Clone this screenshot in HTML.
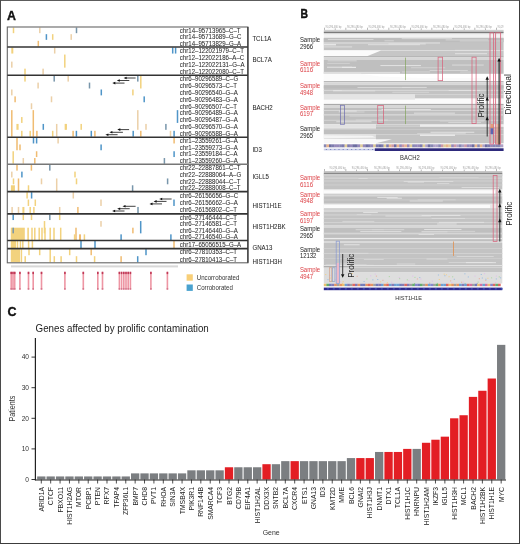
<!DOCTYPE html>
<html><head><meta charset="utf-8"><style>
html,body{margin:0;padding:0;background:#fff;}
svg{display:block;will-change:transform;}
text{font-family:"Liberation Sans", sans-serif;}
</style></head><body>
<svg width="520" height="544" viewBox="0 0 520 544">
<rect x="0" y="0" width="520" height="544" fill="#fff"/>
<text x="7.10" y="19.80" font-size="12.4" fill="#111" text-anchor="start" font-weight="bold" stroke="#111" stroke-width="0.35">A</text>
<rect x="12.75" y="27.50" width="1.50" height="5.67" fill="#f2d27e" />
<rect x="39.05" y="27.50" width="1.50" height="5.67" fill="#ecd0a8" />
<rect x="75.75" y="27.50" width="1.50" height="5.67" fill="#7896ab" />
<rect x="45.65" y="34.17" width="1.50" height="5.67" fill="#4f95c8" />
<rect x="51.95" y="34.17" width="1.50" height="5.67" fill="#f2d27e" />
<rect x="70.45" y="34.17" width="1.50" height="5.67" fill="#ecd0a8" />
<rect x="37.55" y="40.83" width="1.50" height="5.67" fill="#f0bc72" />
<rect x="11.30" y="47.50" width="2.00" height="6.05" fill="#f2d27e" />
<rect x="53.95" y="47.50" width="1.50" height="6.05" fill="#ecd0a8" />
<rect x="171.95" y="47.50" width="1.50" height="6.05" fill="#4f95c8" />
<rect x="174.85" y="47.50" width="1.50" height="6.05" fill="#4f95c8" />
<rect x="64.05" y="54.55" width="1.50" height="13.10" fill="#f2d27e" />
<rect x="11.05" y="61.60" width="1.50" height="6.05" fill="#ecd0a8" />
<rect x="24.25" y="68.65" width="1.50" height="6.05" fill="#f2d27e" />
<rect x="42.35" y="68.65" width="1.50" height="6.05" fill="#ecd0a8" />
<rect x="24.25" y="75.70" width="1.50" height="5.89" fill="#f2d27e" />
<rect x="53.45" y="75.70" width="1.50" height="5.89" fill="#7896ab" />
<rect x="67.45" y="75.70" width="1.50" height="5.89" fill="#ecd0a8" />
<rect x="137.05" y="75.70" width="1.50" height="5.89" fill="#7896ab" />
<rect x="140.05" y="75.70" width="1.50" height="12.78" fill="#f2d27e" />
<rect x="37.35" y="82.59" width="1.50" height="5.89" fill="#ecd0a8" />
<rect x="88.75" y="82.59" width="1.50" height="5.89" fill="#7896ab" />
<rect x="11.05" y="89.48" width="1.50" height="5.89" fill="#ecd0a8" />
<rect x="100.55" y="89.48" width="1.50" height="5.89" fill="#4f95c8" />
<rect x="132.15" y="89.48" width="1.50" height="5.89" fill="#f2d27e" />
<rect x="14.35" y="96.37" width="1.50" height="5.89" fill="#f0bc72" />
<rect x="50.75" y="96.37" width="1.50" height="5.89" fill="#ecd0a8" />
<rect x="143.45" y="96.37" width="1.50" height="5.89" fill="#4f95c8" />
<rect x="30.75" y="103.26" width="1.50" height="5.89" fill="#ecd0a8" />
<rect x="11.05" y="110.14" width="1.50" height="26.56" fill="#f0bc72" />
<rect x="32.55" y="110.14" width="1.50" height="26.56" fill="#f0bc72" />
<rect x="137.05" y="110.14" width="1.50" height="19.67" fill="#ecd0a8" />
<rect x="176.75" y="110.14" width="1.50" height="12.78" fill="#4f95c8" />
<rect x="21.05" y="117.03" width="1.50" height="5.89" fill="#f2d27e" />
<rect x="16.40" y="123.92" width="2.20" height="5.89" fill="#f2d27e" />
<rect x="42.55" y="123.92" width="1.50" height="5.89" fill="#4f95c8" />
<rect x="65.45" y="123.92" width="1.50" height="5.89" fill="#f2d27e" />
<rect x="80.45" y="123.92" width="1.50" height="5.89" fill="#f2d27e" />
<rect x="64.65" y="123.92" width="1.50" height="5.89" fill="#f2d27e" />
<rect x="145.25" y="123.92" width="1.50" height="5.89" fill="#ecd0a8" />
<rect x="165.15" y="123.92" width="1.50" height="5.89" fill="#7896ab" />
<rect x="55.95" y="123.92" width="1.50" height="12.78" fill="#ecd0a8" />
<rect x="21.05" y="130.81" width="1.50" height="5.89" fill="#f2d27e" />
<rect x="29.45" y="130.81" width="1.50" height="5.89" fill="#f2d27e" />
<rect x="36.15" y="130.81" width="1.50" height="5.89" fill="#f0bc72" />
<rect x="51.95" y="130.81" width="1.50" height="5.89" fill="#f2d27e" />
<rect x="72.35" y="130.81" width="1.50" height="5.89" fill="#f0bc72" />
<rect x="75.65" y="130.81" width="1.50" height="5.89" fill="#4f95c8" />
<rect x="90.55" y="130.81" width="1.50" height="5.89" fill="#4f95c8" />
<rect x="94.15" y="130.81" width="1.50" height="5.89" fill="#f0bc72" />
<rect x="132.45" y="130.81" width="1.50" height="5.89" fill="#4f95c8" />
<rect x="140.05" y="130.81" width="1.50" height="5.89" fill="#f0bc72" />
<rect x="169.75" y="130.81" width="1.50" height="5.89" fill="#ecd0a8" />
<rect x="173.35" y="130.81" width="1.50" height="5.89" fill="#4f95c8" />
<rect x="16.25" y="137.70" width="1.50" height="12.55" fill="#f0bc72" />
<rect x="32.75" y="137.70" width="1.50" height="5.78" fill="#4f95c8" />
<rect x="35.85" y="137.70" width="1.50" height="5.78" fill="#4f95c8" />
<rect x="57.35" y="137.70" width="1.50" height="5.78" fill="#ecd0a8" />
<rect x="173.35" y="137.70" width="1.50" height="5.78" fill="#f0bc72" />
<rect x="19.25" y="144.47" width="1.50" height="5.78" fill="#f0bc72" />
<rect x="100.35" y="144.47" width="1.50" height="5.78" fill="#4f95c8" />
<rect x="12.45" y="151.25" width="1.50" height="12.55" fill="#f2d27e" />
<rect x="35.85" y="151.25" width="1.50" height="5.78" fill="#f0bc72" />
<rect x="173.35" y="151.25" width="1.50" height="5.78" fill="#4f95c8" />
<rect x="22.55" y="158.03" width="1.50" height="5.78" fill="#ecd0a8" />
<rect x="34.05" y="158.03" width="1.50" height="5.78" fill="#f0bc72" />
<rect x="163.65" y="158.03" width="1.50" height="5.78" fill="#7896ab" />
<rect x="16.25" y="164.80" width="1.50" height="5.82" fill="#f0bc72" />
<rect x="30.65" y="164.80" width="1.50" height="5.82" fill="#f0bc72" />
<rect x="49.05" y="164.80" width="1.50" height="5.82" fill="#7896ab" />
<rect x="11.05" y="171.62" width="1.50" height="5.82" fill="#ecd0a8" />
<rect x="21.15" y="171.62" width="1.50" height="5.82" fill="#4f95c8" />
<rect x="74.25" y="171.62" width="1.50" height="5.82" fill="#f2d27e" />
<rect x="12.75" y="178.45" width="1.50" height="5.83" fill="#f2d27e" />
<rect x="40.75" y="178.45" width="1.50" height="5.83" fill="#ecd0a8" />
<rect x="75.75" y="178.45" width="1.50" height="5.83" fill="#f2d27e" />
<rect x="166.85" y="178.45" width="1.50" height="5.83" fill="#7896ab" />
<rect x="17.75" y="178.45" width="1.50" height="12.65" fill="#f0bc72" />
<rect x="55.95" y="178.45" width="1.50" height="12.65" fill="#ecd0a8" />
<rect x="10.90" y="185.28" width="4.00" height="5.82" fill="#f2d27e" />
<rect x="27.75" y="185.28" width="1.50" height="5.82" fill="#f2d27e" />
<rect x="131.85" y="185.28" width="1.50" height="5.82" fill="#7896ab" />
<rect x="26.35" y="192.10" width="1.50" height="6.43" fill="#f2d27e" />
<rect x="30.85" y="192.10" width="1.50" height="6.43" fill="#4f95c8" />
<rect x="72.55" y="192.10" width="1.50" height="6.43" fill="#ecd0a8" />
<rect x="27.65" y="199.53" width="1.50" height="6.43" fill="#f2d27e" />
<rect x="34.55" y="199.53" width="1.50" height="6.43" fill="#f2d27e" />
<rect x="100.25" y="199.53" width="1.50" height="6.43" fill="#ecd0a8" />
<rect x="173.25" y="199.53" width="1.50" height="6.43" fill="#4f95c8" />
<rect x="137.25" y="206.97" width="1.50" height="6.43" fill="#7896ab" />
<rect x="11.35" y="206.97" width="1.50" height="6.43" fill="#ecd0a8" />
<rect x="17.75" y="206.97" width="1.50" height="6.43" fill="#ecd0a8" />
<rect x="22.40" y="206.97" width="2.00" height="6.43" fill="#f2d27e" />
<rect x="29.45" y="206.97" width="1.50" height="6.43" fill="#f2d27e" />
<rect x="33.15" y="206.97" width="1.50" height="6.43" fill="#f2d27e" />
<rect x="58.95" y="206.97" width="1.50" height="6.43" fill="#ecd0a8" />
<rect x="77.15" y="206.97" width="1.50" height="6.43" fill="#f0bc72" />
<rect x="12.45" y="214.40" width="1.50" height="5.65" fill="#4f95c8" />
<rect x="22.55" y="214.40" width="1.50" height="5.65" fill="#f2d27e" />
<rect x="30.75" y="214.40" width="1.50" height="5.65" fill="#f2d27e" />
<rect x="49.05" y="214.40" width="1.50" height="5.65" fill="#7896ab" />
<rect x="58.95" y="214.40" width="1.50" height="5.65" fill="#f2d27e" />
<rect x="43.75" y="221.05" width="1.50" height="12.30" fill="#f2d27e" />
<rect x="100.25" y="221.05" width="1.50" height="5.65" fill="#ecd0a8" />
<rect x="139.95" y="221.05" width="1.50" height="12.30" fill="#4f95c8" />
<rect x="10.80" y="227.70" width="14.00" height="12.30" fill="#f2d27e" />
<rect x="75.25" y="227.70" width="1.50" height="12.30" fill="#f0bc72" />
<rect x="27.30" y="227.70" width="1.60" height="12.30" fill="#f2d27e" />
<rect x="31.25" y="227.70" width="1.50" height="12.30" fill="#f2d27e" />
<rect x="34.05" y="227.70" width="1.50" height="12.30" fill="#f2d27e" />
<rect x="38.45" y="227.70" width="1.50" height="12.30" fill="#f2d27e" />
<rect x="41.25" y="227.70" width="1.50" height="12.30" fill="#f2d27e" />
<rect x="44.25" y="227.70" width="1.50" height="12.30" fill="#f2d27e" />
<rect x="49.45" y="227.70" width="1.50" height="12.30" fill="#f2d27e" />
<rect x="53.25" y="227.70" width="1.50" height="12.30" fill="#f2d27e" />
<rect x="59.95" y="227.70" width="1.50" height="12.30" fill="#f2d27e" />
<rect x="12.45" y="227.70" width="1.50" height="5.65" fill="#7896ab" />
<rect x="132.15" y="227.70" width="1.50" height="5.65" fill="#f0bc72" />
<rect x="73.85" y="234.35" width="1.50" height="5.65" fill="#f2d27e" />
<rect x="79.00" y="234.35" width="2.00" height="5.65" fill="#f0bc72" />
<rect x="83.65" y="234.35" width="1.50" height="5.65" fill="#f2d27e" />
<rect x="120.35" y="234.35" width="1.50" height="5.65" fill="#4f95c8" />
<rect x="170.15" y="234.35" width="1.50" height="5.65" fill="#4f95c8" />
<rect x="10.80" y="241.00" width="5.30" height="7.10" fill="#f2d27e" />
<rect x="16.75" y="241.00" width="1.50" height="7.10" fill="#f2d27e" />
<rect x="19.65" y="241.00" width="1.50" height="7.10" fill="#f2d27e" />
<rect x="22.05" y="241.00" width="1.50" height="7.10" fill="#f2d27e" />
<rect x="27.85" y="241.00" width="1.50" height="7.10" fill="#f2d27e" />
<rect x="31.65" y="241.00" width="1.50" height="7.10" fill="#f2d27e" />
<rect x="80.25" y="241.00" width="1.50" height="7.10" fill="#4f95c8" />
<rect x="94.25" y="241.00" width="1.50" height="7.10" fill="#4f95c8" />
<rect x="173.25" y="241.00" width="1.50" height="7.10" fill="#f0bc72" />
<rect x="10.80" y="249.10" width="9.20" height="13.20" fill="#f2d27e" />
<rect x="20.65" y="249.10" width="1.50" height="13.20" fill="#f2d27e" />
<rect x="49.45" y="249.10" width="1.50" height="13.20" fill="#f2d27e" />
<rect x="24.45" y="256.20" width="1.50" height="6.10" fill="#f2d27e" />
<rect x="28.25" y="249.10" width="1.50" height="6.10" fill="#f2d27e" />
<rect x="38.95" y="249.10" width="1.50" height="6.10" fill="#f2d27e" />
<rect x="68.95" y="249.10" width="1.50" height="6.10" fill="#f2d27e" />
<rect x="90.45" y="249.10" width="1.50" height="6.10" fill="#f0bc72" />
<rect x="145.25" y="249.10" width="1.50" height="6.10" fill="#4f95c8" />
<rect x="53.55" y="256.20" width="1.50" height="6.10" fill="#f2d27e" />
<rect x="60.35" y="256.20" width="1.50" height="6.10" fill="#f2d27e" />
<rect x="75.75" y="256.20" width="1.50" height="6.10" fill="#f2d27e" />
<rect x="93.85" y="256.20" width="1.50" height="6.10" fill="#f2d27e" />
<rect x="120.35" y="256.20" width="1.50" height="6.10" fill="#f0bc72" />
<rect x="136.95" y="256.20" width="1.50" height="6.10" fill="#4f95c8" />
<line x1="125.60" y1="78.00" x2="135.60" y2="78.00" stroke="#111" stroke-width="0.8" />
<polygon points="123.60,78.00 126.60,76.70 126.60,79.30" fill="#111" />
<line x1="118.80" y1="80.50" x2="129.30" y2="80.50" stroke="#111" stroke-width="0.8" />
<polygon points="116.80,80.50 119.80,79.20 119.80,81.80" fill="#111" />
<line x1="114.30" y1="83.10" x2="124.50" y2="83.10" stroke="#111" stroke-width="0.8" />
<polygon points="112.30,83.10 115.30,81.80 115.30,84.40" fill="#111" />
<line x1="161.20" y1="199.00" x2="171.60" y2="199.00" stroke="#111" stroke-width="0.8" />
<polygon points="159.20,199.00 162.20,197.70 162.20,200.30" fill="#111" />
<line x1="155.60" y1="201.40" x2="166.50" y2="201.40" stroke="#111" stroke-width="0.8" />
<polygon points="153.60,201.40 156.60,200.10 156.60,202.70" fill="#111" />
<line x1="151.50" y1="203.90" x2="162.00" y2="203.90" stroke="#111" stroke-width="0.8" />
<polygon points="149.50,203.90 152.50,202.60 152.50,205.20" fill="#111" />
<line x1="124.50" y1="206.30" x2="135.60" y2="206.30" stroke="#111" stroke-width="0.8" />
<polygon points="122.50,206.30 125.50,205.00 125.50,207.60" fill="#111" />
<line x1="119.20" y1="208.70" x2="129.70" y2="208.70" stroke="#111" stroke-width="0.8" />
<polygon points="117.20,208.70 120.20,207.40 120.20,210.00" fill="#111" />
<line x1="114.10" y1="211.00" x2="124.50" y2="211.00" stroke="#111" stroke-width="0.8" />
<polygon points="112.10,211.00 115.10,209.70 115.10,212.30" fill="#111" />
<line x1="119.30" y1="129.60" x2="129.10" y2="129.60" stroke="#111" stroke-width="0.8" />
<polygon points="117.30,129.60 120.30,128.30 120.30,130.90" fill="#111" />
<line x1="111.40" y1="132.30" x2="122.90" y2="132.30" stroke="#111" stroke-width="0.8" />
<polygon points="109.40,132.30 112.40,131.00 112.40,133.60" fill="#111" />
<line x1="107.40" y1="134.70" x2="117.60" y2="134.70" stroke="#111" stroke-width="0.8" />
<polygon points="105.40,134.70 108.40,133.40 108.40,136.00" fill="#111" />
<rect x="7.3" y="27.00" width="240.6" height="235.80" fill="none" stroke="#666" stroke-width="1.1"/>
<line x1="247.90" y1="27.00" x2="247.90" y2="262.80" stroke="#333" stroke-width="1.2" />
<line x1="7.30" y1="47.00" x2="247.90" y2="47.00" stroke="#333" stroke-width="1.6" />
<line x1="7.30" y1="75.20" x2="247.90" y2="75.20" stroke="#333" stroke-width="1.6" />
<line x1="7.30" y1="137.20" x2="247.90" y2="137.20" stroke="#333" stroke-width="1.6" />
<line x1="7.30" y1="164.30" x2="247.90" y2="164.30" stroke="#777" stroke-width="1.6" />
<line x1="7.30" y1="191.60" x2="247.90" y2="191.60" stroke="#333" stroke-width="1.6" />
<line x1="7.30" y1="213.90" x2="247.90" y2="213.90" stroke="#333" stroke-width="1.6" />
<line x1="7.30" y1="240.50" x2="247.90" y2="240.50" stroke="#333" stroke-width="1.6" />
<line x1="7.30" y1="248.60" x2="247.90" y2="248.60" stroke="#333" stroke-width="1.6" />
<text x="179.80" y="32.63" font-size="6.6" fill="#2a2a2a" text-anchor="start" font-weight="normal" textLength="60.70" lengthAdjust="spacingAndGlyphs" stroke="#2a2a2a" stroke-width="0.05">chr14–95713965–C–T</text>
<text x="179.80" y="39.30" font-size="6.6" fill="#2a2a2a" text-anchor="start" font-weight="normal" textLength="61.72" lengthAdjust="spacingAndGlyphs" stroke="#2a2a2a" stroke-width="0.05">chr14–95713689–G–C</text>
<text x="179.80" y="45.97" font-size="6.6" fill="#2a2a2a" text-anchor="start" font-weight="normal" textLength="61.39" lengthAdjust="spacingAndGlyphs" stroke="#2a2a2a" stroke-width="0.05">chr14–95713829–G–A</text>
<text x="179.80" y="52.82" font-size="6.6" fill="#2a2a2a" text-anchor="start" font-weight="normal" textLength="64.09" lengthAdjust="spacingAndGlyphs" stroke="#2a2a2a" stroke-width="0.05">chr12–122021979–C–T</text>
<text x="179.80" y="59.88" font-size="6.6" fill="#2a2a2a" text-anchor="start" font-weight="normal" textLength="64.44" lengthAdjust="spacingAndGlyphs" stroke="#2a2a2a" stroke-width="0.05">chr12–122022186–A–C</text>
<text x="179.80" y="66.92" font-size="6.6" fill="#2a2a2a" text-anchor="start" font-weight="normal" textLength="64.78" lengthAdjust="spacingAndGlyphs" stroke="#2a2a2a" stroke-width="0.05">chr12–122022131–G–A</text>
<text x="179.80" y="73.98" font-size="6.6" fill="#2a2a2a" text-anchor="start" font-weight="normal" textLength="64.09" lengthAdjust="spacingAndGlyphs" stroke="#2a2a2a" stroke-width="0.05">chr12–122022080–C–T</text>
<text x="179.80" y="80.94" font-size="6.6" fill="#2a2a2a" text-anchor="start" font-weight="normal" textLength="58.33" lengthAdjust="spacingAndGlyphs" stroke="#2a2a2a" stroke-width="0.05">chr6–90296589–C–G</text>
<text x="179.80" y="87.83" font-size="6.6" fill="#2a2a2a" text-anchor="start" font-weight="normal" textLength="57.31" lengthAdjust="spacingAndGlyphs" stroke="#2a2a2a" stroke-width="0.05">chr6–90296573–C–T</text>
<text x="179.80" y="94.72" font-size="6.6" fill="#2a2a2a" text-anchor="start" font-weight="normal" textLength="57.99" lengthAdjust="spacingAndGlyphs" stroke="#2a2a2a" stroke-width="0.05">chr6–90296540–G–A</text>
<text x="179.80" y="101.61" font-size="6.6" fill="#2a2a2a" text-anchor="start" font-weight="normal" textLength="57.99" lengthAdjust="spacingAndGlyphs" stroke="#2a2a2a" stroke-width="0.05">chr6–90296483–G–A</text>
<text x="179.80" y="108.50" font-size="6.6" fill="#2a2a2a" text-anchor="start" font-weight="normal" textLength="57.31" lengthAdjust="spacingAndGlyphs" stroke="#2a2a2a" stroke-width="0.05">chr6–90296507–C–T</text>
<text x="179.80" y="115.39" font-size="6.6" fill="#2a2a2a" text-anchor="start" font-weight="normal" textLength="57.99" lengthAdjust="spacingAndGlyphs" stroke="#2a2a2a" stroke-width="0.05">chr6–90296489–G–A</text>
<text x="179.80" y="122.28" font-size="6.6" fill="#2a2a2a" text-anchor="start" font-weight="normal" textLength="57.99" lengthAdjust="spacingAndGlyphs" stroke="#2a2a2a" stroke-width="0.05">chr6–90296487–G–A</text>
<text x="179.80" y="129.17" font-size="6.6" fill="#2a2a2a" text-anchor="start" font-weight="normal" textLength="57.99" lengthAdjust="spacingAndGlyphs" stroke="#2a2a2a" stroke-width="0.05">chr6–90296570–G–A</text>
<text x="179.80" y="136.06" font-size="6.6" fill="#2a2a2a" text-anchor="start" font-weight="normal" textLength="57.99" lengthAdjust="spacingAndGlyphs" stroke="#2a2a2a" stroke-width="0.05">chr6–90296588–G–A</text>
<text x="179.80" y="142.89" font-size="6.6" fill="#2a2a2a" text-anchor="start" font-weight="normal" textLength="57.99" lengthAdjust="spacingAndGlyphs" stroke="#2a2a2a" stroke-width="0.05">chr1–23559261–G–A</text>
<text x="179.80" y="149.66" font-size="6.6" fill="#2a2a2a" text-anchor="start" font-weight="normal" textLength="57.99" lengthAdjust="spacingAndGlyphs" stroke="#2a2a2a" stroke-width="0.05">chr1–23559273–G–A</text>
<text x="179.80" y="156.44" font-size="6.6" fill="#2a2a2a" text-anchor="start" font-weight="normal" textLength="57.65" lengthAdjust="spacingAndGlyphs" stroke="#2a2a2a" stroke-width="0.05">chr1–23559184–C–A</text>
<text x="179.80" y="163.21" font-size="6.6" fill="#2a2a2a" text-anchor="start" font-weight="normal" textLength="57.99" lengthAdjust="spacingAndGlyphs" stroke="#2a2a2a" stroke-width="0.05">chr1–23559260–G–A</text>
<text x="179.80" y="170.01" font-size="6.6" fill="#2a2a2a" text-anchor="start" font-weight="normal" textLength="60.70" lengthAdjust="spacingAndGlyphs" stroke="#2a2a2a" stroke-width="0.05">chr22–22887861–C–T</text>
<text x="179.80" y="176.84" font-size="6.6" fill="#2a2a2a" text-anchor="start" font-weight="normal" textLength="61.39" lengthAdjust="spacingAndGlyphs" stroke="#2a2a2a" stroke-width="0.05">chr22–22888064–A–G</text>
<text x="179.80" y="183.66" font-size="6.6" fill="#2a2a2a" text-anchor="start" font-weight="normal" textLength="60.70" lengthAdjust="spacingAndGlyphs" stroke="#2a2a2a" stroke-width="0.05">chr22–22888044–C–T</text>
<text x="179.80" y="190.49" font-size="6.6" fill="#2a2a2a" text-anchor="start" font-weight="normal" textLength="60.70" lengthAdjust="spacingAndGlyphs" stroke="#2a2a2a" stroke-width="0.05">chr22–22888008–C–T</text>
<text x="179.80" y="197.62" font-size="6.6" fill="#2a2a2a" text-anchor="start" font-weight="normal" textLength="58.33" lengthAdjust="spacingAndGlyphs" stroke="#2a2a2a" stroke-width="0.05">chr6–26156656–G–C</text>
<text x="179.80" y="205.05" font-size="6.6" fill="#2a2a2a" text-anchor="start" font-weight="normal" textLength="57.99" lengthAdjust="spacingAndGlyphs" stroke="#2a2a2a" stroke-width="0.05">chr6–26156662–G–A</text>
<text x="179.80" y="212.48" font-size="6.6" fill="#2a2a2a" text-anchor="start" font-weight="normal" textLength="57.31" lengthAdjust="spacingAndGlyphs" stroke="#2a2a2a" stroke-width="0.05">chr6–26156802–C–T</text>
<text x="179.80" y="219.53" font-size="6.6" fill="#2a2a2a" text-anchor="start" font-weight="normal" textLength="57.31" lengthAdjust="spacingAndGlyphs" stroke="#2a2a2a" stroke-width="0.05">chr6–27146444–C–T</text>
<text x="179.80" y="226.18" font-size="6.6" fill="#2a2a2a" text-anchor="start" font-weight="normal" textLength="57.31" lengthAdjust="spacingAndGlyphs" stroke="#2a2a2a" stroke-width="0.05">chr6–27146581–C–T</text>
<text x="179.80" y="232.82" font-size="6.6" fill="#2a2a2a" text-anchor="start" font-weight="normal" textLength="57.99" lengthAdjust="spacingAndGlyphs" stroke="#2a2a2a" stroke-width="0.05">chr6–27146440–G–A</text>
<text x="179.80" y="239.48" font-size="6.6" fill="#2a2a2a" text-anchor="start" font-weight="normal" textLength="57.99" lengthAdjust="spacingAndGlyphs" stroke="#2a2a2a" stroke-width="0.05">chr6–27146540–G–A</text>
<text x="179.80" y="246.85" font-size="6.6" fill="#2a2a2a" text-anchor="start" font-weight="normal" textLength="61.39" lengthAdjust="spacingAndGlyphs" stroke="#2a2a2a" stroke-width="0.05">chr17–65056515–G–A</text>
<text x="179.80" y="254.45" font-size="6.6" fill="#2a2a2a" text-anchor="start" font-weight="normal" textLength="57.31" lengthAdjust="spacingAndGlyphs" stroke="#2a2a2a" stroke-width="0.05">chr6–27810353–C–T</text>
<text x="179.80" y="261.55" font-size="6.6" fill="#2a2a2a" text-anchor="start" font-weight="normal" textLength="57.31" lengthAdjust="spacingAndGlyphs" stroke="#2a2a2a" stroke-width="0.05">chr6–27810413–C–T</text>
<text x="252.40" y="40.70" font-size="6.6" fill="#2a2a2a" text-anchor="start" font-weight="normal" textLength="18.98" lengthAdjust="spacingAndGlyphs" stroke="#2a2a2a" stroke-width="0.05">TCL1A</text>
<text x="252.40" y="61.80" font-size="6.6" fill="#2a2a2a" text-anchor="start" font-weight="normal" textLength="19.33" lengthAdjust="spacingAndGlyphs" stroke="#2a2a2a" stroke-width="0.05">BCL7A</text>
<text x="252.40" y="110.30" font-size="6.6" fill="#2a2a2a" text-anchor="start" font-weight="normal" textLength="20.34" lengthAdjust="spacingAndGlyphs" stroke="#2a2a2a" stroke-width="0.05">BACH2</text>
<text x="252.40" y="151.90" font-size="6.6" fill="#2a2a2a" text-anchor="start" font-weight="normal" textLength="9.49" lengthAdjust="spacingAndGlyphs" stroke="#2a2a2a" stroke-width="0.05">ID3</text>
<text x="252.40" y="178.70" font-size="6.6" fill="#2a2a2a" text-anchor="start" font-weight="normal" textLength="16.62" lengthAdjust="spacingAndGlyphs" stroke="#2a2a2a" stroke-width="0.05">IGLL5</text>
<text x="252.40" y="208.10" font-size="6.6" fill="#2a2a2a" text-anchor="start" font-weight="normal" textLength="29.15" lengthAdjust="spacingAndGlyphs" stroke="#2a2a2a" stroke-width="0.05">HIST1H1E</text>
<text x="252.40" y="228.90" font-size="6.6" fill="#2a2a2a" text-anchor="start" font-weight="normal" textLength="33.22" lengthAdjust="spacingAndGlyphs" stroke="#2a2a2a" stroke-width="0.05">HIST1H2BK</text>
<text x="252.40" y="250.00" font-size="6.6" fill="#2a2a2a" text-anchor="start" font-weight="normal" textLength="20.00" lengthAdjust="spacingAndGlyphs" stroke="#2a2a2a" stroke-width="0.05">GNA13</text>
<text x="252.40" y="264.30" font-size="6.6" fill="#2a2a2a" text-anchor="start" font-weight="normal" textLength="29.49" lengthAdjust="spacingAndGlyphs" stroke="#2a2a2a" stroke-width="0.05">HIST1H3H</text>
<rect x="11.00" y="265.40" width="167.00" height="2.00" fill="#d8d8d8" />
<rect x="10.40" y="272.00" width="1.60" height="17.60" fill="#ee96a4" />
<rect x="10.40" y="271.70" width="1.60" height="2.40" fill="#c03a58" />
<rect x="10.40" y="288.20" width="1.60" height="1.40" fill="#d07088" />
<rect x="12.20" y="272.00" width="1.60" height="17.60" fill="#ee96a4" />
<rect x="12.20" y="271.70" width="1.60" height="2.40" fill="#c03a58" />
<rect x="12.20" y="288.20" width="1.60" height="1.40" fill="#d07088" />
<rect x="13.90" y="272.00" width="1.60" height="17.60" fill="#ee96a4" />
<rect x="13.90" y="271.70" width="1.60" height="2.40" fill="#c03a58" />
<rect x="13.90" y="288.20" width="1.60" height="1.40" fill="#d07088" />
<rect x="19.10" y="272.00" width="1.60" height="17.60" fill="#ee96a4" />
<rect x="19.10" y="271.70" width="1.60" height="2.40" fill="#c03a58" />
<rect x="19.10" y="288.20" width="1.60" height="1.40" fill="#d07088" />
<rect x="27.70" y="272.00" width="1.60" height="17.60" fill="#ee96a4" />
<rect x="27.70" y="271.70" width="1.60" height="2.40" fill="#c03a58" />
<rect x="27.70" y="288.20" width="1.60" height="1.40" fill="#d07088" />
<rect x="32.40" y="272.00" width="1.60" height="17.60" fill="#ee96a4" />
<rect x="32.40" y="271.70" width="1.60" height="2.40" fill="#c03a58" />
<rect x="32.40" y="288.20" width="1.60" height="1.40" fill="#d07088" />
<rect x="40.70" y="272.00" width="1.60" height="17.60" fill="#ee96a4" />
<rect x="40.70" y="271.70" width="1.60" height="2.40" fill="#c03a58" />
<rect x="40.70" y="288.20" width="1.60" height="1.40" fill="#d07088" />
<rect x="64.10" y="272.00" width="1.60" height="17.60" fill="#ee96a4" />
<rect x="64.10" y="271.70" width="1.60" height="2.40" fill="#c03a58" />
<rect x="64.10" y="288.20" width="1.60" height="1.40" fill="#d07088" />
<rect x="82.50" y="272.00" width="1.60" height="17.60" fill="#ee96a4" />
<rect x="82.50" y="271.70" width="1.60" height="2.40" fill="#c03a58" />
<rect x="82.50" y="288.20" width="1.60" height="1.40" fill="#d07088" />
<rect x="97.00" y="272.00" width="1.60" height="17.60" fill="#ee96a4" />
<rect x="97.00" y="271.70" width="1.60" height="2.40" fill="#c03a58" />
<rect x="97.00" y="288.20" width="1.60" height="1.40" fill="#d07088" />
<rect x="101.70" y="272.00" width="1.60" height="17.60" fill="#ee96a4" />
<rect x="101.70" y="271.70" width="1.60" height="2.40" fill="#c03a58" />
<rect x="101.70" y="288.20" width="1.60" height="1.40" fill="#d07088" />
<rect x="118.60" y="272.00" width="1.60" height="17.60" fill="#ee96a4" />
<rect x="118.60" y="271.70" width="1.60" height="2.40" fill="#c03a58" />
<rect x="118.60" y="288.20" width="1.60" height="1.40" fill="#d07088" />
<rect x="120.80" y="272.00" width="1.60" height="17.60" fill="#ee96a4" />
<rect x="120.80" y="271.70" width="1.60" height="2.40" fill="#c03a58" />
<rect x="120.80" y="288.20" width="1.60" height="1.40" fill="#d07088" />
<rect x="123.00" y="272.00" width="1.60" height="17.60" fill="#ee96a4" />
<rect x="123.00" y="271.70" width="1.60" height="2.40" fill="#c03a58" />
<rect x="123.00" y="288.20" width="1.60" height="1.40" fill="#d07088" />
<rect x="125.20" y="272.00" width="1.60" height="17.60" fill="#ee96a4" />
<rect x="125.20" y="271.70" width="1.60" height="2.40" fill="#c03a58" />
<rect x="125.20" y="288.20" width="1.60" height="1.40" fill="#d07088" />
<rect x="127.40" y="272.00" width="1.60" height="17.60" fill="#ee96a4" />
<rect x="127.40" y="271.70" width="1.60" height="2.40" fill="#c03a58" />
<rect x="127.40" y="288.20" width="1.60" height="1.40" fill="#d07088" />
<rect x="129.60" y="272.00" width="1.60" height="17.60" fill="#ee96a4" />
<rect x="129.60" y="271.70" width="1.60" height="2.40" fill="#c03a58" />
<rect x="129.60" y="288.20" width="1.60" height="1.40" fill="#d07088" />
<rect x="150.10" y="272.00" width="1.60" height="17.60" fill="#ee96a4" />
<rect x="150.10" y="271.70" width="1.60" height="2.40" fill="#c03a58" />
<rect x="150.10" y="288.20" width="1.60" height="1.40" fill="#d07088" />
<rect x="166.60" y="272.00" width="1.60" height="17.60" fill="#ee96a4" />
<rect x="166.60" y="271.70" width="1.60" height="2.40" fill="#c03a58" />
<rect x="166.60" y="288.20" width="1.60" height="1.40" fill="#d07088" />
<rect x="186.60" y="274.30" width="6.20" height="6.40" fill="#f8cf78" />
<rect x="186.60" y="284.50" width="6.20" height="6.40" fill="#4aa2cf" />
<text x="196.80" y="280.00" font-size="6.9" fill="#333" text-anchor="start" font-weight="normal" textLength="42.5" lengthAdjust="spacingAndGlyphs">Uncorroborated</text>
<text x="196.80" y="290.00" font-size="6.9" fill="#333" text-anchor="start" font-weight="normal" textLength="36" lengthAdjust="spacingAndGlyphs">Corroborated</text>
<text x="300.60" y="17.50" font-size="13.6" fill="#111" text-anchor="start" font-weight="bold" stroke="#111" stroke-width="0.5" textLength="7.5" lengthAdjust="spacingAndGlyphs">B</text>
<clipPath id="c1"><rect x="323.80" y="23.00" width="179.80" height="8"/></clipPath>
<g clip-path="url(#c1)">
<text x="325.50" y="28.00" font-size="3.1" fill="#a0a0a0" text-anchor="start" font-weight="normal" textLength="16.0" lengthAdjust="spacingAndGlyphs">90,296,480 bp</text>
<text x="347.00" y="28.00" font-size="3.1" fill="#a0a0a0" text-anchor="start" font-weight="normal" textLength="16.0" lengthAdjust="spacingAndGlyphs">90,296,480 bp</text>
<text x="368.50" y="28.00" font-size="3.1" fill="#a0a0a0" text-anchor="start" font-weight="normal" textLength="16.0" lengthAdjust="spacingAndGlyphs">90,296,480 bp</text>
<text x="390.00" y="28.00" font-size="3.1" fill="#a0a0a0" text-anchor="start" font-weight="normal" textLength="16.0" lengthAdjust="spacingAndGlyphs">90,296,480 bp</text>
<text x="411.50" y="28.00" font-size="3.1" fill="#a0a0a0" text-anchor="start" font-weight="normal" textLength="16.0" lengthAdjust="spacingAndGlyphs">90,296,480 bp</text>
<text x="433.00" y="28.00" font-size="3.1" fill="#a0a0a0" text-anchor="start" font-weight="normal" textLength="16.0" lengthAdjust="spacingAndGlyphs">90,296,480 bp</text>
<text x="454.50" y="28.00" font-size="3.1" fill="#a0a0a0" text-anchor="start" font-weight="normal" textLength="16.0" lengthAdjust="spacingAndGlyphs">90,296,480 bp</text>
<text x="476.00" y="28.00" font-size="3.1" fill="#a0a0a0" text-anchor="start" font-weight="normal" textLength="16.0" lengthAdjust="spacingAndGlyphs">90,296,480 bp</text>
<text x="497.50" y="28.00" font-size="3.1" fill="#a0a0a0" text-anchor="start" font-weight="normal" textLength="16.0" lengthAdjust="spacingAndGlyphs">90,296,480 bp</text>
</g>
<rect x="323.80" y="29.90" width="179.80" height="0.70" fill="#b0b0b0" />
<rect x="324.10" y="27.70" width="0.60" height="2.20" fill="#888" />
<rect x="334.85" y="28.30" width="0.60" height="1.60" fill="#888" />
<rect x="345.60" y="27.70" width="0.60" height="2.20" fill="#888" />
<rect x="356.35" y="28.30" width="0.60" height="1.60" fill="#888" />
<rect x="367.10" y="27.70" width="0.60" height="2.20" fill="#888" />
<rect x="377.85" y="28.30" width="0.60" height="1.60" fill="#888" />
<rect x="388.60" y="27.70" width="0.60" height="2.20" fill="#888" />
<rect x="399.35" y="28.30" width="0.60" height="1.60" fill="#888" />
<rect x="410.10" y="27.70" width="0.60" height="2.20" fill="#888" />
<rect x="420.85" y="28.30" width="0.60" height="1.60" fill="#888" />
<rect x="431.60" y="27.70" width="0.60" height="2.20" fill="#888" />
<rect x="442.35" y="28.30" width="0.60" height="1.60" fill="#888" />
<rect x="453.10" y="27.70" width="0.60" height="2.20" fill="#888" />
<rect x="463.85" y="28.30" width="0.60" height="1.60" fill="#888" />
<rect x="474.60" y="27.70" width="0.60" height="2.20" fill="#888" />
<rect x="485.35" y="28.30" width="0.60" height="1.60" fill="#888" />
<rect x="496.10" y="27.70" width="0.60" height="2.20" fill="#888" />
<rect x="323.80" y="31.60" width="179.80" height="1.20" fill="#5a5a5a" />
<rect x="323.80" y="33.00" width="179.80" height="1.50" fill="#d7d7d7" />
<rect x="323.80" y="34.50" width="179.80" height="3.20" fill="#f2f2f2" />
<rect x="323.80" y="37.70" width="179.80" height="12.70" fill="#c3c3c3" />
<rect x="323.80" y="38.20" width="179.80" height="3.90" fill="#bdbdbd" />
<rect x="323.80" y="42.10" width="116.20" height="1.80" fill="#d4d4d4" />
<rect x="323.80" y="43.90" width="12.20" height="1.50" fill="#e6e6e6" />
<rect x="368.00" y="43.90" width="52.00" height="1.30" fill="#dadada" />
<rect x="323.80" y="50.40" width="179.80" height="5.80" fill="#fbfbfb" />
<polygon points="367.00,56.20 381.00,50.40 503.60,50.40 503.60,56.20" fill="#c6c6c6" />
<rect x="455.00" y="49.90" width="32.00" height="1.00" fill="#e2e2e2" />
<rect x="455.00" y="53.20" width="32.00" height="1.00" fill="#e2e2e2" />
<rect x="323.80" y="56.20" width="179.80" height="1.20" fill="#a9a9a9" />
<rect x="323.80" y="57.40" width="179.80" height="2.60" fill="#d7d7d7" />
<rect x="323.80" y="60.00" width="179.80" height="13.80" fill="#bfbfbf" />
<rect x="327.00" y="66.60" width="25.00" height="1.40" fill="#dadada" />
<rect x="323.80" y="71.90" width="76.20" height="1.90" fill="#dedede" />
<rect x="323.80" y="73.80" width="36.20" height="7.20" fill="#fbfbfb" />
<polygon points="360.00,73.80 380.00,76.50 430.00,78.20 430.00,81.00 360.00,81.00" fill="#fbfbfb" />
<rect x="323.80" y="78.20" width="165.20" height="3.20" fill="#fbfbfb" />
<rect x="342.00" y="66.80" width="14.00" height="1.20" fill="#e8e8e8" />
<rect x="323.80" y="81.20" width="179.80" height="1.00" fill="#a9a9a9" />
<rect x="323.80" y="82.20" width="179.80" height="2.60" fill="#d7d7d7" />
<rect x="323.80" y="84.80" width="179.80" height="9.70" fill="#c3c3c3" />
<rect x="323.80" y="85.50" width="179.80" height="3.00" fill="#bababa" />
<rect x="323.80" y="90.00" width="179.80" height="1.00" fill="#d6d6d6" />
<rect x="323.80" y="94.50" width="91.20" height="5.30" fill="#e4e4e4" />
<rect x="415.00" y="94.50" width="88.60" height="4.10" fill="#c6c6c6" />
<rect x="323.80" y="99.80" width="179.80" height="4.10" fill="#fbfbfb" />
<rect x="415.00" y="98.60" width="88.60" height="1.20" fill="#fbfbfb" />
<rect x="323.80" y="103.90" width="179.80" height="1.10" fill="#a9a9a9" />
<rect x="323.80" y="105.00" width="179.80" height="3.00" fill="#d7d7d7" />
<rect x="323.80" y="108.00" width="179.80" height="16.20" fill="#bfbfbf" />
<rect x="323.80" y="110.00" width="179.80" height="0.90" fill="#d8d8d8" />
<rect x="323.80" y="114.00" width="179.80" height="1.60" fill="#d4d4d4" />
<rect x="323.80" y="119.80" width="179.80" height="0.90" fill="#d6d6d6" />
<rect x="323.80" y="124.20" width="52.20" height="3.40" fill="#e2e2e2" />
<rect x="376.00" y="124.20" width="127.60" height="0.40" fill="#c4c4c4" />
<rect x="420.00" y="124.60" width="83.60" height="2.20" fill="#ececec" />
<rect x="376.00" y="124.60" width="44.00" height="2.20" fill="#c8c8c8" />
<rect x="323.80" y="127.60" width="52.20" height="1.60" fill="#d7d7d7" />
<rect x="376.00" y="126.80" width="127.60" height="2.40" fill="#bfbfbf" />
<rect x="323.80" y="129.20" width="179.80" height="5.20" fill="#bfbfbf" />
<rect x="376.00" y="134.40" width="127.60" height="8.90" fill="#c3c3c3" />
<rect x="323.80" y="134.40" width="52.20" height="4.80" fill="#dedede" />
<polygon points="323.80,135.20 372.00,135.80 376.00,137.60 323.80,138.20" fill="#f4f4f4" />
<rect x="323.80" y="139.20" width="52.20" height="4.10" fill="#f8f8f8" />
<polygon points="376.00,139.20 392.00,139.20 376.00,143.30" fill="#f8f8f8" />
<rect x="420.00" y="134.40" width="35.00" height="1.60" fill="#e8e8e8" />
<rect x="445.69" y="39.50" width="42.37" height="0.80" fill="#dadada" />
<rect x="388.45" y="43.55" width="37.32" height="0.80" fill="#e6e6e6" />
<rect x="327.88" y="39.05" width="45.61" height="0.80" fill="#dedede" />
<rect x="324.10" y="46.54" width="28.04" height="0.80" fill="#e5e5e5" />
<rect x="459.77" y="40.56" width="43.83" height="0.80" fill="#d4d4d4" />
<rect x="401.68" y="38.28" width="50.26" height="0.80" fill="#dddddd" />
<rect x="384.52" y="40.43" width="9.31" height="0.80" fill="#d9d9d9" />
<rect x="460.14" y="71.66" width="10.54" height="0.80" fill="#d6d6d6" />
<rect x="429.66" y="70.19" width="38.14" height="0.80" fill="#dbdbdb" />
<rect x="411.08" y="67.39" width="34.15" height="0.80" fill="#d7d7d7" />
<rect x="380.41" y="65.25" width="40.54" height="0.80" fill="#ebebeb" />
<rect x="402.07" y="71.58" width="28.02" height="0.80" fill="#dadada" />
<rect x="327.75" y="60.44" width="28.92" height="0.80" fill="#dbdbdb" />
<rect x="452.07" y="64.64" width="31.66" height="0.80" fill="#e1e1e1" />
<rect x="327.23" y="62.88" width="22.63" height="0.80" fill="#d7d7d7" />
<rect x="402.08" y="86.95" width="24.65" height="0.80" fill="#e2e2e2" />
<rect x="333.23" y="90.13" width="8.59" height="0.80" fill="#e8e8e8" />
<rect x="357.51" y="87.13" width="52.80" height="0.80" fill="#dfdfdf" />
<rect x="392.32" y="91.86" width="36.76" height="0.80" fill="#d7d7d7" />
<rect x="448.66" y="90.21" width="31.54" height="0.80" fill="#e5e5e5" />
<rect x="333.01" y="90.51" width="42.12" height="0.80" fill="#e2e2e2" />
<rect x="338.64" y="111.59" width="25.82" height="0.80" fill="#d7d7d7" />
<rect x="381.56" y="109.01" width="49.31" height="0.80" fill="#e7e7e7" />
<rect x="355.72" y="119.63" width="32.15" height="0.80" fill="#dadada" />
<rect x="339.07" y="110.62" width="17.65" height="0.80" fill="#eaeaea" />
<rect x="439.83" y="120.60" width="44.02" height="0.80" fill="#d8d8d8" />
<rect x="413.98" y="112.71" width="40.94" height="0.80" fill="#e8e8e8" />
<rect x="336.27" y="121.38" width="35.26" height="0.80" fill="#e4e4e4" />
<rect x="349.37" y="115.69" width="29.31" height="0.80" fill="#d6d6d6" />
<rect x="448.29" y="122.21" width="32.64" height="0.80" fill="#dbdbdb" />
<rect x="430.50" y="131.80" width="43.78" height="0.80" fill="#eaeaea" />
<rect x="456.47" y="132.24" width="9.31" height="0.80" fill="#dfdfdf" />
<rect x="417.15" y="132.99" width="48.54" height="0.80" fill="#d6d6d6" />
<rect x="323.80" y="144.30" width="2.70" height="3.00" fill="#6a6aa0" opacity="0.8"/>
<rect x="326.40" y="144.30" width="2.70" height="3.00" fill="#e0a070" opacity="0.8"/>
<rect x="329.00" y="144.30" width="2.70" height="3.00" fill="#4a4a8a" opacity="0.8"/>
<rect x="331.60" y="144.30" width="2.70" height="3.00" fill="#5d5a9a" opacity="0.8"/>
<rect x="334.20" y="144.30" width="2.70" height="3.00" fill="#7a6aa8" opacity="0.8"/>
<rect x="336.80" y="144.30" width="2.70" height="3.00" fill="#7a6aa8" opacity="0.8"/>
<rect x="339.40" y="144.30" width="2.70" height="3.00" fill="#6a6aa0" opacity="0.8"/>
<rect x="342.00" y="144.30" width="2.70" height="3.00" fill="#5d5a9a" opacity="0.8"/>
<rect x="344.60" y="144.30" width="2.70" height="3.00" fill="#d8c080" opacity="0.8"/>
<rect x="347.20" y="144.30" width="2.70" height="3.00" fill="#5d5a9a" opacity="0.8"/>
<rect x="349.80" y="144.30" width="2.70" height="3.00" fill="#7a6aa8" opacity="0.8"/>
<rect x="352.40" y="144.30" width="2.70" height="3.00" fill="#4a4a8a" opacity="0.8"/>
<rect x="355.00" y="144.30" width="2.70" height="3.00" fill="#4a4a8a" opacity="0.8"/>
<rect x="357.60" y="144.30" width="2.70" height="3.00" fill="#7a6aa8" opacity="0.8"/>
<rect x="360.20" y="144.30" width="2.70" height="3.00" fill="#d8c080" opacity="0.8"/>
<rect x="362.80" y="144.30" width="2.70" height="3.00" fill="#7a6aa8" opacity="0.8"/>
<rect x="365.40" y="144.30" width="2.70" height="3.00" fill="#4a4a8a" opacity="0.8"/>
<rect x="368.00" y="144.30" width="2.70" height="3.00" fill="#5d5a9a" opacity="0.8"/>
<rect x="370.60" y="144.30" width="2.70" height="3.00" fill="#7a6aa8" opacity="0.8"/>
<rect x="373.20" y="144.30" width="2.70" height="3.00" fill="#d8c080" opacity="0.8"/>
<rect x="375.80" y="144.30" width="2.70" height="3.00" fill="#5d5a9a" opacity="0.8"/>
<rect x="378.40" y="144.30" width="2.70" height="3.00" fill="#4a4a8a" opacity="0.8"/>
<rect x="381.00" y="144.30" width="2.70" height="3.00" fill="#5d5a9a" opacity="0.8"/>
<rect x="383.60" y="144.30" width="2.70" height="3.00" fill="#d8c080" opacity="0.8"/>
<rect x="386.20" y="144.30" width="2.70" height="3.00" fill="#5d5a9a" opacity="0.8"/>
<rect x="388.80" y="144.30" width="2.70" height="3.00" fill="#e0a070" opacity="0.8"/>
<rect x="391.40" y="144.30" width="2.70" height="3.00" fill="#c08090" opacity="0.8"/>
<rect x="394.00" y="144.30" width="2.70" height="3.00" fill="#4a4a8a" opacity="0.8"/>
<rect x="396.60" y="144.30" width="2.70" height="3.00" fill="#e0a070" opacity="0.8"/>
<rect x="399.20" y="144.30" width="2.70" height="3.00" fill="#7a6aa8" opacity="0.8"/>
<rect x="401.80" y="144.30" width="2.70" height="3.00" fill="#c08090" opacity="0.8"/>
<rect x="404.40" y="144.30" width="2.70" height="3.00" fill="#e0a070" opacity="0.8"/>
<rect x="407.00" y="144.30" width="2.70" height="3.00" fill="#7a6aa8" opacity="0.8"/>
<rect x="409.60" y="144.30" width="2.70" height="3.00" fill="#d8c080" opacity="0.8"/>
<rect x="412.20" y="144.30" width="2.70" height="3.00" fill="#6a6aa0" opacity="0.8"/>
<rect x="414.80" y="144.30" width="2.70" height="3.00" fill="#7a6aa8" opacity="0.8"/>
<rect x="417.40" y="144.30" width="2.70" height="3.00" fill="#7a6aa8" opacity="0.8"/>
<rect x="420.00" y="144.30" width="2.70" height="3.00" fill="#5d5a9a" opacity="0.8"/>
<rect x="422.60" y="144.30" width="2.70" height="3.00" fill="#d8c080" opacity="0.8"/>
<rect x="425.20" y="144.30" width="2.70" height="3.00" fill="#9a8ab8" opacity="0.8"/>
<rect x="427.80" y="144.30" width="2.70" height="3.00" fill="#4a4a8a" opacity="0.8"/>
<rect x="430.40" y="144.30" width="2.70" height="3.00" fill="#6a6aa0" opacity="0.8"/>
<rect x="433.00" y="144.30" width="2.70" height="3.00" fill="#9a8ab8" opacity="0.8"/>
<rect x="435.60" y="144.30" width="2.70" height="3.00" fill="#9a8ab8" opacity="0.8"/>
<rect x="438.20" y="144.30" width="2.70" height="3.00" fill="#6a6aa0" opacity="0.8"/>
<rect x="440.80" y="144.30" width="2.70" height="3.00" fill="#c08090" opacity="0.8"/>
<rect x="443.40" y="144.30" width="2.70" height="3.00" fill="#d8c080" opacity="0.8"/>
<rect x="446.00" y="144.30" width="2.70" height="3.00" fill="#e0a070" opacity="0.8"/>
<rect x="448.60" y="144.30" width="2.70" height="3.00" fill="#d8c080" opacity="0.8"/>
<rect x="451.20" y="144.30" width="2.70" height="3.00" fill="#7a6aa8" opacity="0.8"/>
<rect x="453.80" y="144.30" width="2.70" height="3.00" fill="#c08090" opacity="0.8"/>
<rect x="456.40" y="144.30" width="2.70" height="3.00" fill="#9a8ab8" opacity="0.8"/>
<rect x="459.00" y="144.30" width="2.70" height="3.00" fill="#6a6aa0" opacity="0.8"/>
<rect x="461.60" y="144.30" width="2.70" height="3.00" fill="#9a8ab8" opacity="0.8"/>
<rect x="464.20" y="144.30" width="2.70" height="3.00" fill="#c08090" opacity="0.8"/>
<rect x="466.80" y="144.30" width="2.70" height="3.00" fill="#7a6aa8" opacity="0.8"/>
<rect x="469.40" y="144.30" width="2.70" height="3.00" fill="#7a6aa8" opacity="0.8"/>
<rect x="472.00" y="144.30" width="2.70" height="3.00" fill="#4a4a8a" opacity="0.8"/>
<rect x="474.60" y="144.30" width="2.70" height="3.00" fill="#e0a070" opacity="0.8"/>
<rect x="477.20" y="144.30" width="2.70" height="3.00" fill="#6a6aa0" opacity="0.8"/>
<rect x="479.80" y="144.30" width="2.70" height="3.00" fill="#e0a070" opacity="0.8"/>
<rect x="482.40" y="144.30" width="2.70" height="3.00" fill="#9a8ab8" opacity="0.8"/>
<rect x="485.00" y="144.30" width="2.70" height="3.00" fill="#4a4a8a" opacity="0.8"/>
<rect x="487.60" y="144.30" width="2.70" height="3.00" fill="#5d5a9a" opacity="0.8"/>
<rect x="490.20" y="144.30" width="2.70" height="3.00" fill="#7a6aa8" opacity="0.8"/>
<rect x="492.80" y="144.30" width="2.70" height="3.00" fill="#6a6aa0" opacity="0.8"/>
<rect x="495.40" y="144.30" width="2.70" height="3.00" fill="#6a6aa0" opacity="0.8"/>
<rect x="498.00" y="144.30" width="2.70" height="3.00" fill="#6a6aa0" opacity="0.8"/>
<rect x="500.60" y="144.30" width="2.70" height="3.00" fill="#9a8ab8" opacity="0.8"/>
<rect x="323.80" y="148.60" width="51.00" height="1.80" fill="#c8cde6" />
<rect x="325.80" y="149.00" width="1.20" height="1.00" fill="#8088c0" />
<rect x="330.00" y="149.00" width="1.20" height="1.00" fill="#8088c0" />
<rect x="334.20" y="149.00" width="1.20" height="1.00" fill="#8088c0" />
<rect x="338.40" y="149.00" width="1.20" height="1.00" fill="#8088c0" />
<rect x="342.60" y="149.00" width="1.20" height="1.00" fill="#8088c0" />
<rect x="346.80" y="149.00" width="1.20" height="1.00" fill="#8088c0" />
<rect x="351.00" y="149.00" width="1.20" height="1.00" fill="#8088c0" />
<rect x="355.20" y="149.00" width="1.20" height="1.00" fill="#8088c0" />
<rect x="359.40" y="149.00" width="1.20" height="1.00" fill="#8088c0" />
<rect x="363.60" y="149.00" width="1.20" height="1.00" fill="#8088c0" />
<rect x="367.80" y="149.00" width="1.20" height="1.00" fill="#8088c0" />
<rect x="372.00" y="149.00" width="1.20" height="1.00" fill="#8088c0" />
<rect x="374.80" y="148.30" width="128.80" height="2.70" fill="#2e2a7c" />
<text x="400.00" y="159.80" font-size="6.4" fill="#333" text-anchor="start" font-weight="normal" textLength="19.7" lengthAdjust="spacingAndGlyphs">BACH2</text>
<rect x="438.10" y="57.20" width="4.50" height="23.40" fill="none" stroke="#d8607a" stroke-width="0.8" opacity="0.9"/>
<rect x="472.00" y="57.20" width="4.10" height="66.40" fill="none" stroke="#d8607a" stroke-width="0.8" opacity="0.9"/>
<rect x="377.70" y="105.50" width="5.80" height="18.10" fill="none" stroke="#d8607a" stroke-width="0.8" opacity="0.9"/>
<rect x="340.40" y="105.30" width="4.00" height="19.00" fill="none" stroke="#7070b0" stroke-width="0.8" opacity="0.9"/>
<rect x="490.00" y="32.80" width="3.60" height="111.20" fill="none" stroke="#d8607a" stroke-width="0.9" opacity="0.9"/>
<rect x="495.60" y="32.80" width="5.00" height="111.20" fill="none" stroke="#d8607a" stroke-width="0.9" opacity="0.9"/>
<rect x="405.10" y="57.60" width="0.80" height="22.50" fill="#7aa050" opacity="0.8"/>
<rect x="405.10" y="105.60" width="0.80" height="18.50" fill="#7aa050" opacity="0.8"/>
<rect x="490.60" y="124.00" width="2.60" height="4.30" fill="#e08050" opacity="0.7"/>
<rect x="490.60" y="128.30" width="2.60" height="6.00" fill="#4050b0" opacity="0.8"/>
<rect x="496.30" y="124.00" width="3.80" height="20.00" fill="#e09070" opacity="0.6"/>
<line x1="499.10" y1="60.80" x2="499.10" y2="144.50" stroke="#222" stroke-width="1.1" />
<polygon points="499.10,57.80 497.40,61.40 500.80,61.40" fill="#111" />
<line x1="487.20" y1="79.00" x2="487.20" y2="136.50" stroke="#222" stroke-width="0.9" />
<polygon points="487.20,76.20 485.50,79.80 488.90,79.80" fill="#111" />
<polygon points="487.20,96.80 485.50,100.40 488.90,100.40" fill="#111" />
<polygon points="487.20,116.60 485.50,120.20 488.90,120.20" fill="#111" />
<text x="0.00" y="0.00" font-size="8.2" fill="#222" text-anchor="start" font-weight="normal" transform="translate(484.0,117.6) rotate(-90)" textLength="24.2" lengthAdjust="spacingAndGlyphs">Prolific</text>
<text x="0.00" y="0.00" font-size="8.8" fill="#222" text-anchor="start" font-weight="normal" transform="translate(510.9,114.7) rotate(-90)" textLength="40.7" lengthAdjust="spacingAndGlyphs">Directional</text>
<text x="299.90" y="42.40" font-size="6.9" fill="#222" text-anchor="start" font-weight="normal" textLength="20.2" lengthAdjust="spacingAndGlyphs">Sample</text>
<text x="299.90" y="48.60" font-size="6.6" fill="#222" text-anchor="start" font-weight="normal" textLength="13.2" lengthAdjust="spacingAndGlyphs">2966</text>
<text x="299.90" y="66.10" font-size="6.9" fill="#dc4146" text-anchor="start" font-weight="normal" textLength="20.2" lengthAdjust="spacingAndGlyphs">Sample</text>
<text x="299.90" y="72.40" font-size="6.6" fill="#dc4146" text-anchor="start" font-weight="normal" textLength="13.2" lengthAdjust="spacingAndGlyphs">6116</text>
<text x="299.90" y="88.10" font-size="6.9" fill="#dc4146" text-anchor="start" font-weight="normal" textLength="20.2" lengthAdjust="spacingAndGlyphs">Sample</text>
<text x="299.90" y="94.90" font-size="6.6" fill="#dc4146" text-anchor="start" font-weight="normal" textLength="13.2" lengthAdjust="spacingAndGlyphs">4948</text>
<text x="299.90" y="109.80" font-size="6.9" fill="#dc4146" text-anchor="start" font-weight="normal" textLength="20.2" lengthAdjust="spacingAndGlyphs">Sample</text>
<text x="299.90" y="116.30" font-size="6.6" fill="#dc4146" text-anchor="start" font-weight="normal" textLength="13.2" lengthAdjust="spacingAndGlyphs">6197</text>
<text x="299.90" y="131.20" font-size="6.9" fill="#222" text-anchor="start" font-weight="normal" textLength="20.2" lengthAdjust="spacingAndGlyphs">Sample</text>
<text x="299.90" y="138.00" font-size="6.6" fill="#222" text-anchor="start" font-weight="normal" textLength="13.2" lengthAdjust="spacingAndGlyphs">2965</text>
<clipPath id="c2"><rect x="323.80" y="164.30" width="178.50" height="8"/></clipPath>
<g clip-path="url(#c2)">
<text x="329.60" y="169.30" font-size="3.1" fill="#a0a0a0" text-anchor="start" font-weight="normal" textLength="16.0" lengthAdjust="spacingAndGlyphs">90,296,480 bp</text>
<text x="351.80" y="169.30" font-size="3.1" fill="#a0a0a0" text-anchor="start" font-weight="normal" textLength="16.0" lengthAdjust="spacingAndGlyphs">90,296,480 bp</text>
<text x="374.00" y="169.30" font-size="3.1" fill="#a0a0a0" text-anchor="start" font-weight="normal" textLength="16.0" lengthAdjust="spacingAndGlyphs">90,296,480 bp</text>
<text x="396.20" y="169.30" font-size="3.1" fill="#a0a0a0" text-anchor="start" font-weight="normal" textLength="16.0" lengthAdjust="spacingAndGlyphs">90,296,480 bp</text>
<text x="418.40" y="169.30" font-size="3.1" fill="#a0a0a0" text-anchor="start" font-weight="normal" textLength="16.0" lengthAdjust="spacingAndGlyphs">90,296,480 bp</text>
<text x="440.60" y="169.30" font-size="3.1" fill="#a0a0a0" text-anchor="start" font-weight="normal" textLength="16.0" lengthAdjust="spacingAndGlyphs">90,296,480 bp</text>
<text x="462.80" y="169.30" font-size="3.1" fill="#a0a0a0" text-anchor="start" font-weight="normal" textLength="16.0" lengthAdjust="spacingAndGlyphs">90,296,480 bp</text>
<text x="485.00" y="169.30" font-size="3.1" fill="#a0a0a0" text-anchor="start" font-weight="normal" textLength="16.0" lengthAdjust="spacingAndGlyphs">90,296,480 bp</text>
<text x="507.20" y="169.30" font-size="3.1" fill="#a0a0a0" text-anchor="start" font-weight="normal" textLength="16.0" lengthAdjust="spacingAndGlyphs">90,296,480 bp</text>
</g>
<rect x="323.80" y="171.20" width="178.50" height="0.70" fill="#b0b0b0" />
<rect x="324.10" y="169.00" width="0.60" height="2.20" fill="#888" />
<rect x="334.85" y="169.60" width="0.60" height="1.60" fill="#888" />
<rect x="345.60" y="169.00" width="0.60" height="2.20" fill="#888" />
<rect x="356.35" y="169.60" width="0.60" height="1.60" fill="#888" />
<rect x="367.10" y="169.00" width="0.60" height="2.20" fill="#888" />
<rect x="377.85" y="169.60" width="0.60" height="1.60" fill="#888" />
<rect x="388.60" y="169.00" width="0.60" height="2.20" fill="#888" />
<rect x="399.35" y="169.60" width="0.60" height="1.60" fill="#888" />
<rect x="410.10" y="169.00" width="0.60" height="2.20" fill="#888" />
<rect x="420.85" y="169.60" width="0.60" height="1.60" fill="#888" />
<rect x="431.60" y="169.00" width="0.60" height="2.20" fill="#888" />
<rect x="442.35" y="169.60" width="0.60" height="1.60" fill="#888" />
<rect x="453.10" y="169.00" width="0.60" height="2.20" fill="#888" />
<rect x="463.85" y="169.60" width="0.60" height="1.60" fill="#888" />
<rect x="474.60" y="169.00" width="0.60" height="2.20" fill="#888" />
<rect x="485.35" y="169.60" width="0.60" height="1.60" fill="#888" />
<rect x="496.10" y="169.00" width="0.60" height="2.20" fill="#888" />
<rect x="323.80" y="172.60" width="178.50" height="1.20" fill="#5a5a5a" />
<rect x="323.80" y="173.80" width="178.50" height="15.70" fill="#c3c3c3" />
<rect x="323.80" y="174.00" width="178.50" height="2.20" fill="#cdcdcd" />
<rect x="323.80" y="177.60" width="178.50" height="1.00" fill="#d8d8d8" />
<rect x="323.80" y="180.50" width="178.50" height="1.00" fill="#d2d2d2" />
<rect x="323.80" y="184.50" width="178.50" height="0.90" fill="#d0d0d0" />
<rect x="323.80" y="189.50" width="178.50" height="4.70" fill="#e6e6e6" />
<rect x="323.80" y="190.20" width="171.20" height="4.00" fill="#fbfbfb" />
<rect x="323.80" y="193.80" width="178.50" height="0.80" fill="#a9a9a9" />
<rect x="323.80" y="194.60" width="178.50" height="1.60" fill="#d7d7d7" />
<rect x="323.80" y="196.20" width="178.50" height="7.60" fill="#bfbfbf" />
<rect x="323.80" y="199.50" width="178.50" height="0.90" fill="#d0d0d0" />
<rect x="323.80" y="203.80" width="178.50" height="4.70" fill="#e8e8e8" />
<rect x="323.80" y="204.80" width="166.20" height="3.20" fill="#fbfbfb" />
<rect x="323.80" y="208.60" width="178.50" height="1.00" fill="#a9a9a9" />
<rect x="323.80" y="209.60" width="178.50" height="1.90" fill="#d7d7d7" />
<rect x="323.80" y="211.50" width="178.50" height="14.10" fill="#c3c3c3" />
<rect x="323.80" y="214.50" width="178.50" height="0.90" fill="#d8d8d8" />
<rect x="323.80" y="218.20" width="178.50" height="0.80" fill="#d2d2d2" />
<rect x="323.80" y="222.00" width="178.50" height="0.90" fill="#d4d4d4" />
<rect x="323.80" y="225.60" width="178.50" height="2.00" fill="#d7d7d7" />
<rect x="323.80" y="227.60" width="178.50" height="13.40" fill="#bfbfbf" />
<rect x="323.80" y="232.70" width="178.50" height="1.70" fill="#d6d6d6" />
<rect x="323.80" y="237.90" width="178.50" height="1.30" fill="#ececec" />
<rect x="323.80" y="241.00" width="178.50" height="2.00" fill="#dadada" />
<rect x="323.80" y="243.00" width="178.50" height="24.50" fill="#c3c3c3" />
<rect x="323.80" y="248.00" width="178.50" height="1.00" fill="#cfcfcf" />
<rect x="323.80" y="253.00" width="178.50" height="1.00" fill="#d2d2d2" />
<rect x="323.80" y="258.00" width="178.50" height="1.00" fill="#cccccc" />
<rect x="323.80" y="265.00" width="178.50" height="1.10" fill="#e2e2e2" />
<rect x="350.00" y="267.50" width="152.30" height="5.00" fill="#c3c3c3" />
<rect x="323.80" y="266.20" width="26.20" height="1.30" fill="#a9a9a9" />
<rect x="323.80" y="267.50" width="26.20" height="16.00" fill="#dcdcdc" />
<rect x="350.00" y="272.50" width="152.30" height="11.00" fill="#dedede" />
<rect x="403.74" y="181.07" width="49.59" height="0.80" fill="#dfdfdf" />
<rect x="407.68" y="181.69" width="16.31" height="0.80" fill="#e0e0e0" />
<rect x="437.04" y="183.05" width="12.24" height="0.80" fill="#dbdbdb" />
<rect x="439.42" y="177.02" width="39.20" height="0.80" fill="#d5d5d5" />
<rect x="461.57" y="187.00" width="37.43" height="0.80" fill="#e2e2e2" />
<rect x="325.94" y="177.76" width="31.78" height="0.80" fill="#d5d5d5" />
<rect x="358.35" y="178.13" width="9.35" height="0.80" fill="#dfdfdf" />
<rect x="417.69" y="199.47" width="37.99" height="0.80" fill="#d7d7d7" />
<rect x="377.31" y="197.06" width="20.33" height="0.80" fill="#e7e7e7" />
<rect x="409.69" y="200.59" width="33.12" height="0.80" fill="#e3e3e3" />
<rect x="386.64" y="197.76" width="15.30" height="0.80" fill="#e9e9e9" />
<rect x="421.65" y="215.16" width="38.78" height="0.80" fill="#e8e8e8" />
<rect x="356.72" y="214.27" width="14.62" height="0.80" fill="#d9d9d9" />
<rect x="342.39" y="220.96" width="31.91" height="0.80" fill="#d9d9d9" />
<rect x="385.43" y="215.59" width="45.69" height="0.80" fill="#e2e2e2" />
<rect x="363.19" y="212.18" width="14.60" height="0.80" fill="#e8e8e8" />
<rect x="438.90" y="221.88" width="45.19" height="0.80" fill="#e5e5e5" />
<rect x="437.15" y="223.58" width="19.55" height="0.80" fill="#e8e8e8" />
<rect x="431.61" y="217.94" width="33.39" height="0.80" fill="#dedede" />
<rect x="424.13" y="229.20" width="37.34" height="0.80" fill="#eaeaea" />
<rect x="360.32" y="231.04" width="41.03" height="0.80" fill="#e3e3e3" />
<rect x="421.51" y="231.39" width="25.85" height="0.80" fill="#e6e6e6" />
<rect x="355.68" y="229.33" width="48.57" height="0.80" fill="#dcdcdc" />
<rect x="438.65" y="230.92" width="36.42" height="0.80" fill="#d7d7d7" />
<rect x="418.62" y="234.17" width="15.42" height="0.80" fill="#e3e3e3" />
<rect x="371.93" y="229.38" width="11.74" height="0.80" fill="#d8d8d8" />
<rect x="325.46" y="264.46" width="41.12" height="0.80" fill="#d7d7d7" />
<rect x="326.21" y="264.91" width="47.58" height="0.80" fill="#e4e4e4" />
<rect x="466.57" y="262.18" width="18.79" height="0.80" fill="#dcdcdc" />
<rect x="363.87" y="259.01" width="19.85" height="0.80" fill="#d9d9d9" />
<rect x="448.68" y="262.19" width="43.89" height="0.80" fill="#d9d9d9" />
<rect x="396.82" y="263.61" width="18.41" height="0.80" fill="#dedede" />
<rect x="335.08" y="252.90" width="33.41" height="0.80" fill="#dcdcdc" />
<rect x="456.64" y="256.08" width="37.05" height="0.80" fill="#dddddd" />
<rect x="465.91" y="262.31" width="30.06" height="0.80" fill="#eaeaea" />
<rect x="343.84" y="244.40" width="15.75" height="0.80" fill="#eaeaea" />
<rect x="426.48" y="258.64" width="20.90" height="0.80" fill="#dfdfdf" />
<rect x="338.06" y="262.81" width="13.23" height="0.80" fill="#d5d5d5" />
<rect x="366.28" y="278.44" width="1.20" height="1.00" fill="#b0d8a8" />
<rect x="487.30" y="277.74" width="1.20" height="1.00" fill="#f0d090" />
<rect x="335.50" y="273.13" width="1.20" height="1.00" fill="#e0c0e8" />
<rect x="370.09" y="275.34" width="1.20" height="1.00" fill="#e0c0e8" />
<rect x="420.36" y="278.50" width="1.20" height="1.00" fill="#e0c0e8" />
<rect x="437.87" y="274.51" width="1.20" height="1.00" fill="#a0c0e0" />
<rect x="478.75" y="278.23" width="1.20" height="1.00" fill="#e8b0a0" />
<rect x="443.65" y="273.64" width="1.20" height="1.00" fill="#f0d090" />
<rect x="331.44" y="280.80" width="1.20" height="1.00" fill="#b0d8a8" />
<rect x="408.19" y="280.19" width="1.20" height="1.00" fill="#e0c0e8" />
<rect x="451.27" y="282.21" width="1.20" height="1.00" fill="#e0c0e8" />
<rect x="453.77" y="278.77" width="1.20" height="1.00" fill="#a0c0e0" />
<rect x="480.68" y="273.97" width="1.20" height="1.00" fill="#a0c0e0" />
<rect x="412.14" y="275.58" width="1.20" height="1.00" fill="#e0c0e8" />
<rect x="462.85" y="281.55" width="1.20" height="1.00" fill="#e0c0e8" />
<rect x="414.34" y="276.86" width="1.20" height="1.00" fill="#b0d8a8" />
<rect x="419.14" y="277.08" width="1.20" height="1.00" fill="#a0c0e0" />
<rect x="485.20" y="279.82" width="1.20" height="1.00" fill="#e8b0a0" />
<rect x="476.67" y="282.91" width="1.20" height="1.00" fill="#a0c0e0" />
<rect x="448.50" y="276.26" width="1.20" height="1.00" fill="#f0d090" />
<rect x="485.29" y="278.69" width="1.20" height="1.00" fill="#a0c0e0" />
<rect x="436.79" y="282.88" width="1.20" height="1.00" fill="#b0d8a8" />
<rect x="374.66" y="273.63" width="1.20" height="1.00" fill="#e0c0e8" />
<rect x="339.60" y="281.01" width="1.20" height="1.00" fill="#e0c0e8" />
<rect x="483.93" y="273.20" width="1.20" height="1.00" fill="#e0c0e8" />
<rect x="461.03" y="281.73" width="1.20" height="1.00" fill="#e8b0a0" />
<rect x="431.79" y="280.62" width="1.20" height="1.00" fill="#e0c0e8" />
<rect x="452.04" y="276.31" width="1.20" height="1.00" fill="#b0d8a8" />
<rect x="414.02" y="282.99" width="1.20" height="1.00" fill="#b0d8a8" />
<rect x="325.09" y="274.08" width="1.20" height="1.00" fill="#f0d090" />
<rect x="329.40" y="274.97" width="1.20" height="1.00" fill="#e0c0e8" />
<rect x="375.85" y="275.63" width="1.20" height="1.00" fill="#e8b0a0" />
<rect x="498.71" y="276.40" width="1.20" height="1.00" fill="#b0d8a8" />
<rect x="494.92" y="281.97" width="1.20" height="1.00" fill="#e0c0e8" />
<rect x="391.05" y="281.70" width="1.20" height="1.00" fill="#e0c0e8" />
<rect x="438.73" y="278.96" width="1.20" height="1.00" fill="#f0d090" />
<rect x="342.11" y="282.73" width="1.20" height="1.00" fill="#f0d090" />
<rect x="372.23" y="279.34" width="1.20" height="1.00" fill="#a0c0e0" />
<rect x="490.95" y="277.37" width="1.20" height="1.00" fill="#b0d8a8" />
<rect x="416.82" y="278.48" width="1.20" height="1.00" fill="#e8b0a0" />
<rect x="464.53" y="282.87" width="1.20" height="1.00" fill="#b0d8a8" />
<rect x="327.38" y="279.16" width="1.20" height="1.00" fill="#a0c0e0" />
<rect x="334.52" y="279.27" width="1.20" height="1.00" fill="#e0c0e8" />
<rect x="386.80" y="282.17" width="1.20" height="1.00" fill="#f0d090" />
<rect x="449.99" y="280.38" width="1.20" height="1.00" fill="#e8b0a0" />
<rect x="429.00" y="282.55" width="1.20" height="1.00" fill="#e8b0a0" />
<rect x="495.75" y="275.51" width="1.20" height="1.00" fill="#e0c0e8" />
<rect x="377.11" y="279.01" width="1.20" height="1.00" fill="#a0c0e0" />
<rect x="388.77" y="276.13" width="1.20" height="1.00" fill="#b0d8a8" />
<rect x="474.43" y="275.64" width="1.20" height="1.00" fill="#e0c0e8" />
<rect x="342.52" y="281.13" width="1.20" height="1.00" fill="#f0d090" />
<rect x="445.85" y="274.31" width="1.20" height="1.00" fill="#f0d090" />
<rect x="363.52" y="281.04" width="1.20" height="1.00" fill="#a0c0e0" />
<rect x="382.31" y="279.78" width="1.20" height="1.00" fill="#e8b0a0" />
<rect x="341.98" y="276.22" width="1.20" height="1.00" fill="#b0d8a8" />
<rect x="444.27" y="275.24" width="1.20" height="1.00" fill="#a0c0e0" />
<rect x="338.07" y="280.42" width="1.20" height="1.00" fill="#a0c0e0" />
<rect x="481.75" y="277.51" width="1.20" height="1.00" fill="#a0c0e0" />
<rect x="464.28" y="273.34" width="1.20" height="1.00" fill="#a0c0e0" />
<rect x="380.05" y="281.36" width="1.20" height="1.00" fill="#f0d090" />
<rect x="356.57" y="275.79" width="1.20" height="1.00" fill="#e8b0a0" />
<rect x="467.72" y="276.45" width="1.20" height="1.00" fill="#a0c0e0" />
<rect x="399.00" y="278.18" width="1.20" height="1.00" fill="#b0d8a8" />
<rect x="406.75" y="279.34" width="1.20" height="1.00" fill="#b0d8a8" />
<rect x="398.73" y="277.10" width="1.20" height="1.00" fill="#e0c0e8" />
<rect x="351.65" y="273.05" width="1.20" height="1.00" fill="#f0d090" />
<rect x="499.96" y="277.34" width="1.20" height="1.00" fill="#a0c0e0" />
<rect x="329.57" y="277.57" width="1.20" height="1.00" fill="#f0d090" />
<rect x="495.76" y="278.44" width="1.20" height="1.00" fill="#a0c0e0" />
<rect x="477.58" y="281.58" width="1.20" height="1.00" fill="#b0d8a8" />
<rect x="323.80" y="283.70" width="2.70" height="2.50" fill="#e8b04a" opacity="0.8"/>
<rect x="326.40" y="283.70" width="2.70" height="2.50" fill="#3f9a4a" opacity="0.8"/>
<rect x="329.00" y="283.70" width="2.70" height="2.50" fill="#505aa8" opacity="0.8"/>
<rect x="331.60" y="283.70" width="2.70" height="2.50" fill="#6a5aa0" opacity="0.8"/>
<rect x="334.20" y="283.70" width="2.70" height="2.50" fill="#e07a3a" opacity="0.8"/>
<rect x="336.80" y="283.70" width="2.70" height="2.50" fill="#8a8a8a" opacity="0.8"/>
<rect x="339.40" y="283.70" width="2.70" height="2.50" fill="#e07a3a" opacity="0.8"/>
<rect x="342.00" y="283.70" width="2.70" height="2.50" fill="#e8b04a" opacity="0.8"/>
<rect x="344.60" y="283.70" width="2.70" height="2.50" fill="#4a8ac8" opacity="0.8"/>
<rect x="347.20" y="283.70" width="2.70" height="2.50" fill="#6a5aa0" opacity="0.8"/>
<rect x="349.80" y="283.70" width="2.70" height="2.50" fill="#8a8a8a" opacity="0.8"/>
<rect x="352.40" y="283.70" width="2.70" height="2.50" fill="#d8433a" opacity="0.8"/>
<rect x="355.00" y="283.70" width="2.70" height="2.50" fill="#6a5aa0" opacity="0.8"/>
<rect x="357.60" y="283.70" width="2.70" height="2.50" fill="#e07a3a" opacity="0.8"/>
<rect x="360.20" y="283.70" width="2.70" height="2.50" fill="#505aa8" opacity="0.8"/>
<rect x="362.80" y="283.70" width="2.70" height="2.50" fill="#505aa8" opacity="0.8"/>
<rect x="365.40" y="283.70" width="2.70" height="2.50" fill="#e07a3a" opacity="0.8"/>
<rect x="368.00" y="283.70" width="2.70" height="2.50" fill="#d8433a" opacity="0.8"/>
<rect x="370.60" y="283.70" width="2.70" height="2.50" fill="#e07a3a" opacity="0.8"/>
<rect x="373.20" y="283.70" width="2.70" height="2.50" fill="#8a8a8a" opacity="0.8"/>
<rect x="375.80" y="283.70" width="2.70" height="2.50" fill="#505aa8" opacity="0.8"/>
<rect x="378.40" y="283.70" width="2.70" height="2.50" fill="#6a5aa0" opacity="0.8"/>
<rect x="381.00" y="283.70" width="2.70" height="2.50" fill="#4a8ac8" opacity="0.8"/>
<rect x="383.60" y="283.70" width="2.70" height="2.50" fill="#e07a3a" opacity="0.8"/>
<rect x="386.20" y="283.70" width="2.70" height="2.50" fill="#d8433a" opacity="0.8"/>
<rect x="388.80" y="283.70" width="2.70" height="2.50" fill="#4a8ac8" opacity="0.8"/>
<rect x="391.40" y="283.70" width="2.70" height="2.50" fill="#6a5aa0" opacity="0.8"/>
<rect x="394.00" y="283.70" width="2.70" height="2.50" fill="#4a8ac8" opacity="0.8"/>
<rect x="396.60" y="283.70" width="2.70" height="2.50" fill="#4a8ac8" opacity="0.8"/>
<rect x="399.20" y="283.70" width="2.70" height="2.50" fill="#505aa8" opacity="0.8"/>
<rect x="401.80" y="283.70" width="2.70" height="2.50" fill="#6a5aa0" opacity="0.8"/>
<rect x="404.40" y="283.70" width="2.70" height="2.50" fill="#d8433a" opacity="0.8"/>
<rect x="407.00" y="283.70" width="2.70" height="2.50" fill="#6a5aa0" opacity="0.8"/>
<rect x="409.60" y="283.70" width="2.70" height="2.50" fill="#8a8a8a" opacity="0.8"/>
<rect x="412.20" y="283.70" width="2.70" height="2.50" fill="#3f9a4a" opacity="0.8"/>
<rect x="414.80" y="283.70" width="2.70" height="2.50" fill="#6a6ac0" opacity="0.8"/>
<rect x="417.40" y="283.70" width="2.70" height="2.50" fill="#505aa8" opacity="0.8"/>
<rect x="420.00" y="283.70" width="2.70" height="2.50" fill="#3f9a4a" opacity="0.8"/>
<rect x="422.60" y="283.70" width="2.70" height="2.50" fill="#8a8a8a" opacity="0.8"/>
<rect x="425.20" y="283.70" width="2.70" height="2.50" fill="#e07a3a" opacity="0.8"/>
<rect x="427.80" y="283.70" width="2.70" height="2.50" fill="#4a8ac8" opacity="0.8"/>
<rect x="430.40" y="283.70" width="2.70" height="2.50" fill="#6a6ac0" opacity="0.8"/>
<rect x="433.00" y="283.70" width="2.70" height="2.50" fill="#8a8a8a" opacity="0.8"/>
<rect x="435.60" y="283.70" width="2.70" height="2.50" fill="#3f9a4a" opacity="0.8"/>
<rect x="438.20" y="283.70" width="2.70" height="2.50" fill="#e07a3a" opacity="0.8"/>
<rect x="440.80" y="283.70" width="2.70" height="2.50" fill="#4a8ac8" opacity="0.8"/>
<rect x="443.40" y="283.70" width="2.70" height="2.50" fill="#4a8ac8" opacity="0.8"/>
<rect x="446.00" y="283.70" width="2.70" height="2.50" fill="#d8433a" opacity="0.8"/>
<rect x="448.60" y="283.70" width="2.70" height="2.50" fill="#e8b04a" opacity="0.8"/>
<rect x="451.20" y="283.70" width="2.70" height="2.50" fill="#e07a3a" opacity="0.8"/>
<rect x="453.80" y="283.70" width="2.70" height="2.50" fill="#8a8a8a" opacity="0.8"/>
<rect x="456.40" y="283.70" width="2.70" height="2.50" fill="#e07a3a" opacity="0.8"/>
<rect x="459.00" y="283.70" width="2.70" height="2.50" fill="#4a8ac8" opacity="0.8"/>
<rect x="461.60" y="283.70" width="2.70" height="2.50" fill="#6a5aa0" opacity="0.8"/>
<rect x="464.20" y="283.70" width="2.70" height="2.50" fill="#4a8ac8" opacity="0.8"/>
<rect x="466.80" y="283.70" width="2.70" height="2.50" fill="#d8433a" opacity="0.8"/>
<rect x="469.40" y="283.70" width="2.70" height="2.50" fill="#c8508a" opacity="0.8"/>
<rect x="472.00" y="283.70" width="2.70" height="2.50" fill="#8a8a8a" opacity="0.8"/>
<rect x="474.60" y="283.70" width="2.70" height="2.50" fill="#505aa8" opacity="0.8"/>
<rect x="477.20" y="283.70" width="2.70" height="2.50" fill="#e8b04a" opacity="0.8"/>
<rect x="479.80" y="283.70" width="2.70" height="2.50" fill="#c8508a" opacity="0.8"/>
<rect x="482.40" y="283.70" width="2.70" height="2.50" fill="#4a8ac8" opacity="0.8"/>
<rect x="485.00" y="283.70" width="2.70" height="2.50" fill="#c8508a" opacity="0.8"/>
<rect x="487.60" y="283.70" width="2.70" height="2.50" fill="#e8b04a" opacity="0.8"/>
<rect x="490.20" y="283.70" width="2.70" height="2.50" fill="#6a6ac0" opacity="0.8"/>
<rect x="492.80" y="283.70" width="2.70" height="2.50" fill="#d8433a" opacity="0.8"/>
<rect x="495.40" y="283.70" width="2.70" height="2.50" fill="#3f9a4a" opacity="0.8"/>
<rect x="498.00" y="283.70" width="2.70" height="2.50" fill="#d8433a" opacity="0.8"/>
<rect x="323.80" y="287.60" width="178.50" height="2.60" fill="#2e2a8c" />
<rect x="326.80" y="288.20" width="2.00" height="1.30" fill="#4a60c0" opacity="0.8"/>
<rect x="332.80" y="288.20" width="2.00" height="1.30" fill="#4a60c0" opacity="0.8"/>
<rect x="338.80" y="288.20" width="2.00" height="1.30" fill="#4a60c0" opacity="0.8"/>
<rect x="344.80" y="288.20" width="2.00" height="1.30" fill="#4a60c0" opacity="0.8"/>
<rect x="350.80" y="288.20" width="2.00" height="1.30" fill="#4a60c0" opacity="0.8"/>
<rect x="356.80" y="288.20" width="2.00" height="1.30" fill="#4a60c0" opacity="0.8"/>
<rect x="362.80" y="288.20" width="2.00" height="1.30" fill="#4a60c0" opacity="0.8"/>
<rect x="368.80" y="288.20" width="2.00" height="1.30" fill="#4a60c0" opacity="0.8"/>
<rect x="374.80" y="288.20" width="2.00" height="1.30" fill="#4a60c0" opacity="0.8"/>
<rect x="380.80" y="288.20" width="2.00" height="1.30" fill="#4a60c0" opacity="0.8"/>
<rect x="386.80" y="288.20" width="2.00" height="1.30" fill="#4a60c0" opacity="0.8"/>
<rect x="392.80" y="288.20" width="2.00" height="1.30" fill="#4a60c0" opacity="0.8"/>
<rect x="398.80" y="288.20" width="2.00" height="1.30" fill="#4a60c0" opacity="0.8"/>
<rect x="404.80" y="288.20" width="2.00" height="1.30" fill="#4a60c0" opacity="0.8"/>
<rect x="410.80" y="288.20" width="2.00" height="1.30" fill="#4a60c0" opacity="0.8"/>
<rect x="416.80" y="288.20" width="2.00" height="1.30" fill="#4a60c0" opacity="0.8"/>
<rect x="422.80" y="288.20" width="2.00" height="1.30" fill="#4a60c0" opacity="0.8"/>
<rect x="428.80" y="288.20" width="2.00" height="1.30" fill="#4a60c0" opacity="0.8"/>
<rect x="434.80" y="288.20" width="2.00" height="1.30" fill="#4a60c0" opacity="0.8"/>
<rect x="440.80" y="288.20" width="2.00" height="1.30" fill="#4a60c0" opacity="0.8"/>
<rect x="446.80" y="288.20" width="2.00" height="1.30" fill="#4a60c0" opacity="0.8"/>
<rect x="452.80" y="288.20" width="2.00" height="1.30" fill="#4a60c0" opacity="0.8"/>
<rect x="458.80" y="288.20" width="2.00" height="1.30" fill="#4a60c0" opacity="0.8"/>
<rect x="464.80" y="288.20" width="2.00" height="1.30" fill="#4a60c0" opacity="0.8"/>
<rect x="470.80" y="288.20" width="2.00" height="1.30" fill="#4a60c0" opacity="0.8"/>
<rect x="476.80" y="288.20" width="2.00" height="1.30" fill="#4a60c0" opacity="0.8"/>
<rect x="482.80" y="288.20" width="2.00" height="1.30" fill="#4a60c0" opacity="0.8"/>
<rect x="488.80" y="288.20" width="2.00" height="1.30" fill="#4a60c0" opacity="0.8"/>
<rect x="494.80" y="288.20" width="2.00" height="1.30" fill="#4a60c0" opacity="0.8"/>
<rect x="500.80" y="288.20" width="2.00" height="1.30" fill="#4a60c0" opacity="0.8"/>
<text x="395.30" y="300.00" font-size="5.8" fill="#333" text-anchor="start" font-weight="normal" textLength="26.6" lengthAdjust="spacingAndGlyphs">HIST1H1E</text>
<rect x="493.20" y="175.40" width="3.80" height="66.10" fill="none" stroke="#d8607a" stroke-width="0.8" opacity="0.9"/>
<line x1="499.80" y1="191.00" x2="499.80" y2="241.50" stroke="#222" stroke-width="0.9" />
<polygon points="499.80,188.80 498.10,192.40 501.50,192.40" fill="#111" />
<polygon points="499.80,203.60 498.10,207.20 501.50,207.20" fill="#111" />
<polygon points="499.80,218.60 498.10,222.20 501.50,222.20" fill="#111" />
<text x="0.00" y="0.00" font-size="8.2" fill="#222" text-anchor="start" font-weight="normal" transform="translate(511.8,225.8) rotate(-90)" textLength="24.2" lengthAdjust="spacingAndGlyphs">Prolific</text>
<rect x="453.00" y="241.50" width="1.00" height="14.40" fill="#e09050" opacity="0.8"/>
<rect x="336.50" y="263.00" width="2.50" height="20.00" fill="#eeb8c6" />
<rect x="336.20" y="241.20" width="3.20" height="42.20" fill="none" stroke="#8a9ad0" stroke-width="0.8" opacity="0.9"/>
<rect x="329.30" y="267.80" width="2.50" height="13.80" fill="none" stroke="#d09070" stroke-width="0.6" opacity="0.9"/>
<rect x="332.30" y="267.80" width="2.60" height="13.80" fill="none" stroke="#8090c0" stroke-width="0.6" opacity="0.9"/>
<line x1="342.70" y1="254.00" x2="342.70" y2="274.50" stroke="#222" stroke-width="0.9" />
<polygon points="342.70,277.80 341.00,274.20 344.40,274.20" fill="#111" />
<text x="0.00" y="0.00" font-size="8.2" fill="#222" text-anchor="start" font-weight="normal" transform="translate(354.0,277.8) rotate(-90)" textLength="24.2" lengthAdjust="spacingAndGlyphs">Prolific</text>
<text x="299.90" y="180.30" font-size="6.9" fill="#dc4146" text-anchor="start" font-weight="normal" textLength="20.2" lengthAdjust="spacingAndGlyphs">Sample</text>
<text x="299.90" y="186.90" font-size="6.6" fill="#dc4146" text-anchor="start" font-weight="normal" textLength="13.2" lengthAdjust="spacingAndGlyphs">6116</text>
<text x="299.90" y="197.30" font-size="6.9" fill="#dc4146" text-anchor="start" font-weight="normal" textLength="20.2" lengthAdjust="spacingAndGlyphs">Sample</text>
<text x="299.90" y="203.40" font-size="6.6" fill="#dc4146" text-anchor="start" font-weight="normal" textLength="13.2" lengthAdjust="spacingAndGlyphs">4948</text>
<text x="299.90" y="216.10" font-size="6.9" fill="#dc4146" text-anchor="start" font-weight="normal" textLength="20.2" lengthAdjust="spacingAndGlyphs">Sample</text>
<text x="299.90" y="222.60" font-size="6.6" fill="#dc4146" text-anchor="start" font-weight="normal" textLength="13.2" lengthAdjust="spacingAndGlyphs">6197</text>
<text x="299.90" y="231.10" font-size="6.9" fill="#222" text-anchor="start" font-weight="normal" textLength="20.2" lengthAdjust="spacingAndGlyphs">Sample</text>
<text x="299.90" y="237.60" font-size="6.6" fill="#222" text-anchor="start" font-weight="normal" textLength="13.2" lengthAdjust="spacingAndGlyphs">2965</text>
<text x="299.90" y="251.80" font-size="6.9" fill="#222" text-anchor="start" font-weight="normal" textLength="20.2" lengthAdjust="spacingAndGlyphs">Sample</text>
<text x="299.90" y="257.50" font-size="6.6" fill="#222" text-anchor="start" font-weight="normal" textLength="16.5" lengthAdjust="spacingAndGlyphs">12132</text>
<text x="299.90" y="272.40" font-size="6.9" fill="#dc4146" text-anchor="start" font-weight="normal" textLength="20.2" lengthAdjust="spacingAndGlyphs">Sample</text>
<text x="299.90" y="278.50" font-size="6.6" fill="#dc4146" text-anchor="start" font-weight="normal" textLength="13.2" lengthAdjust="spacingAndGlyphs">4947</text>
<text x="7.50" y="316.30" font-size="12.5" fill="#111" text-anchor="start" font-weight="bold" stroke="#111" stroke-width="0.35">C</text>
<text x="35.60" y="331.70" font-size="10.4" fill="#222" text-anchor="start" font-weight="normal" textLength="173.2" lengthAdjust="spacingAndGlyphs">Genes affected by prolific contamination</text>
<rect x="37.15" y="476.44" width="8.30" height="3.06" fill="#7b7e81" />
<line x1="41.30" y1="479.50" x2="41.30" y2="483.50" stroke="#222" stroke-width="0.8" />
<text x="0.00" y="0.00" font-size="7.5" fill="#222" text-anchor="end" font-weight="normal" transform="translate(43.80,487) rotate(-90)" textLength="24.56" lengthAdjust="spacingAndGlyphs">ARID1A</text>
<rect x="46.53" y="476.44" width="8.30" height="3.06" fill="#7b7e81" />
<line x1="50.68" y1="479.50" x2="50.68" y2="483.50" stroke="#222" stroke-width="0.8" />
<text x="0.00" y="0.00" font-size="7.5" fill="#222" text-anchor="end" font-weight="normal" transform="translate(53.18,487) rotate(-90)" textLength="18.13" lengthAdjust="spacingAndGlyphs">CTCF</text>
<rect x="55.92" y="476.44" width="8.30" height="3.06" fill="#7b7e81" />
<line x1="60.07" y1="479.50" x2="60.07" y2="483.50" stroke="#222" stroke-width="0.8" />
<text x="0.00" y="0.00" font-size="7.5" fill="#222" text-anchor="end" font-weight="normal" transform="translate(62.57,487) rotate(-90)" textLength="25.57" lengthAdjust="spacingAndGlyphs">FBXO11</text>
<rect x="65.30" y="476.44" width="8.30" height="3.06" fill="#7b7e81" />
<line x1="69.45" y1="479.50" x2="69.45" y2="483.50" stroke="#222" stroke-width="0.8" />
<text x="0.00" y="0.00" font-size="7.5" fill="#222" text-anchor="end" font-weight="normal" transform="translate(71.95,487) rotate(-90)" textLength="37.79" lengthAdjust="spacingAndGlyphs">HIST1H2AG</text>
<rect x="74.69" y="476.44" width="8.30" height="3.06" fill="#7b7e81" />
<line x1="78.84" y1="479.50" x2="78.84" y2="483.50" stroke="#222" stroke-width="0.8" />
<text x="0.00" y="0.00" font-size="7.5" fill="#222" text-anchor="end" font-weight="normal" transform="translate(81.34,487) rotate(-90)" textLength="19.89" lengthAdjust="spacingAndGlyphs">MTOR</text>
<rect x="84.07" y="476.44" width="8.30" height="3.06" fill="#7b7e81" />
<line x1="88.22" y1="479.50" x2="88.22" y2="483.50" stroke="#222" stroke-width="0.8" />
<text x="0.00" y="0.00" font-size="7.5" fill="#222" text-anchor="end" font-weight="normal" transform="translate(90.72,487) rotate(-90)" textLength="22.30" lengthAdjust="spacingAndGlyphs">PCBP1</text>
<rect x="93.46" y="476.44" width="8.30" height="3.06" fill="#7b7e81" />
<line x1="97.61" y1="479.50" x2="97.61" y2="483.50" stroke="#222" stroke-width="0.8" />
<text x="0.00" y="0.00" font-size="7.5" fill="#222" text-anchor="end" font-weight="normal" transform="translate(100.11,487) rotate(-90)" textLength="18.14" lengthAdjust="spacingAndGlyphs">PTEN</text>
<rect x="102.84" y="476.44" width="8.30" height="3.06" fill="#7b7e81" />
<line x1="106.99" y1="479.50" x2="106.99" y2="483.50" stroke="#222" stroke-width="0.8" />
<text x="0.00" y="0.00" font-size="7.5" fill="#222" text-anchor="end" font-weight="normal" transform="translate(109.49,487) rotate(-90)" textLength="17.38" lengthAdjust="spacingAndGlyphs">RFX7</text>
<rect x="112.23" y="476.44" width="8.30" height="3.06" fill="#7b7e81" />
<line x1="116.38" y1="479.50" x2="116.38" y2="483.50" stroke="#222" stroke-width="0.8" />
<text x="0.00" y="0.00" font-size="7.5" fill="#222" text-anchor="end" font-weight="normal" transform="translate(118.88,487) rotate(-90)" textLength="20.78" lengthAdjust="spacingAndGlyphs">TFAP4</text>
<rect x="121.61" y="476.44" width="8.30" height="3.06" fill="#7b7e81" />
<line x1="125.77" y1="479.50" x2="125.77" y2="483.50" stroke="#222" stroke-width="0.8" />
<text x="0.00" y="0.00" font-size="7.5" fill="#222" text-anchor="end" font-weight="normal" transform="translate(128.26,487) rotate(-90)" textLength="27.97" lengthAdjust="spacingAndGlyphs">ZFP36L1</text>
<rect x="131.00" y="473.38" width="8.30" height="6.12" fill="#7b7e81" />
<line x1="135.15" y1="479.50" x2="135.15" y2="483.50" stroke="#222" stroke-width="0.8" />
<text x="0.00" y="0.00" font-size="7.5" fill="#222" text-anchor="end" font-weight="normal" transform="translate(137.65,487) rotate(-90)" textLength="18.52" lengthAdjust="spacingAndGlyphs">BMP7</text>
<rect x="140.38" y="473.38" width="8.30" height="6.12" fill="#7b7e81" />
<line x1="144.53" y1="479.50" x2="144.53" y2="483.50" stroke="#222" stroke-width="0.8" />
<text x="0.00" y="0.00" font-size="7.5" fill="#222" text-anchor="end" font-weight="normal" transform="translate(147.03,487) rotate(-90)" textLength="18.51" lengthAdjust="spacingAndGlyphs">CHD8</text>
<rect x="149.77" y="473.38" width="8.30" height="6.12" fill="#7b7e81" />
<line x1="153.92" y1="479.50" x2="153.92" y2="483.50" stroke="#222" stroke-width="0.8" />
<text x="0.00" y="0.00" font-size="7.5" fill="#222" text-anchor="end" font-weight="normal" transform="translate(156.42,487) rotate(-90)" textLength="17.01" lengthAdjust="spacingAndGlyphs">PVT1</text>
<rect x="159.16" y="473.38" width="8.30" height="6.12" fill="#7b7e81" />
<line x1="163.31" y1="479.50" x2="163.31" y2="483.50" stroke="#222" stroke-width="0.8" />
<text x="0.00" y="0.00" font-size="7.5" fill="#222" text-anchor="end" font-weight="normal" transform="translate(165.81,487) rotate(-90)" textLength="19.65" lengthAdjust="spacingAndGlyphs">RHOA</text>
<rect x="168.54" y="473.38" width="8.30" height="6.12" fill="#7b7e81" />
<line x1="172.69" y1="479.50" x2="172.69" y2="483.50" stroke="#222" stroke-width="0.8" />
<text x="0.00" y="0.00" font-size="7.5" fill="#222" text-anchor="end" font-weight="normal" transform="translate(175.19,487) rotate(-90)" textLength="19.65" lengthAdjust="spacingAndGlyphs">SIN3A</text>
<rect x="177.92" y="473.38" width="8.30" height="6.12" fill="#7b7e81" />
<line x1="182.07" y1="479.50" x2="182.07" y2="483.50" stroke="#222" stroke-width="0.8" />
<text x="0.00" y="0.00" font-size="7.5" fill="#222" text-anchor="end" font-weight="normal" transform="translate(184.57,487) rotate(-90)" textLength="27.21" lengthAdjust="spacingAndGlyphs">TMSB4X</text>
<rect x="187.31" y="470.32" width="8.30" height="9.18" fill="#7b7e81" />
<line x1="191.46" y1="479.50" x2="191.46" y2="483.50" stroke="#222" stroke-width="0.8" />
<text x="0.00" y="0.00" font-size="7.5" fill="#222" text-anchor="end" font-weight="normal" transform="translate(193.96,487) rotate(-90)" textLength="23.43" lengthAdjust="spacingAndGlyphs">PIK3R1</text>
<rect x="196.69" y="470.32" width="8.30" height="9.18" fill="#7b7e81" />
<line x1="200.84" y1="479.50" x2="200.84" y2="483.50" stroke="#222" stroke-width="0.8" />
<text x="0.00" y="0.00" font-size="7.5" fill="#222" text-anchor="end" font-weight="normal" transform="translate(203.34,487) rotate(-90)" textLength="29.86" lengthAdjust="spacingAndGlyphs">RNF144B</text>
<rect x="206.08" y="470.32" width="8.30" height="9.18" fill="#7b7e81" />
<line x1="210.23" y1="479.50" x2="210.23" y2="483.50" stroke="#222" stroke-width="0.8" />
<text x="0.00" y="0.00" font-size="7.5" fill="#222" text-anchor="end" font-weight="normal" transform="translate(212.73,487) rotate(-90)" textLength="32.87" lengthAdjust="spacingAndGlyphs">SMARCA4</text>
<rect x="215.47" y="470.32" width="8.30" height="9.18" fill="#7b7e81" />
<line x1="219.62" y1="479.50" x2="219.62" y2="483.50" stroke="#222" stroke-width="0.8" />
<text x="0.00" y="0.00" font-size="7.5" fill="#222" text-anchor="end" font-weight="normal" transform="translate(222.12,487) rotate(-90)" textLength="17.00" lengthAdjust="spacingAndGlyphs">TCF3</text>
<rect x="224.85" y="467.26" width="8.30" height="12.24" fill="#e31e24" />
<line x1="229.00" y1="479.50" x2="229.00" y2="483.50" stroke="#222" stroke-width="0.8" />
<text x="0.00" y="0.00" font-size="7.5" fill="#222" text-anchor="end" font-weight="normal" transform="translate(231.50,487) rotate(-90)" textLength="17.76" lengthAdjust="spacingAndGlyphs">BTG2</text>
<rect x="234.23" y="467.26" width="8.30" height="12.24" fill="#7b7e81" />
<line x1="238.38" y1="479.50" x2="238.38" y2="483.50" stroke="#222" stroke-width="0.8" />
<text x="0.00" y="0.00" font-size="7.5" fill="#222" text-anchor="end" font-weight="normal" transform="translate(240.88,487) rotate(-90)" textLength="21.92" lengthAdjust="spacingAndGlyphs">CD79B</text>
<rect x="243.62" y="467.26" width="8.30" height="12.24" fill="#7b7e81" />
<line x1="247.77" y1="479.50" x2="247.77" y2="483.50" stroke="#222" stroke-width="0.8" />
<text x="0.00" y="0.00" font-size="7.5" fill="#222" text-anchor="end" font-weight="normal" transform="translate(250.27,487) rotate(-90)" textLength="22.68" lengthAdjust="spacingAndGlyphs">EIF4A1</text>
<rect x="253.00" y="467.26" width="8.30" height="12.24" fill="#7b7e81" />
<line x1="257.15" y1="479.50" x2="257.15" y2="483.50" stroke="#222" stroke-width="0.8" />
<text x="0.00" y="0.00" font-size="7.5" fill="#222" text-anchor="end" font-weight="normal" transform="translate(259.65,487) rotate(-90)" textLength="36.28" lengthAdjust="spacingAndGlyphs">HIST1H2AL</text>
<rect x="262.39" y="464.20" width="8.30" height="15.30" fill="#e31e24" />
<line x1="266.54" y1="479.50" x2="266.54" y2="483.50" stroke="#222" stroke-width="0.8" />
<text x="0.00" y="0.00" font-size="7.5" fill="#222" text-anchor="end" font-weight="normal" transform="translate(269.04,487) rotate(-90)" textLength="22.67" lengthAdjust="spacingAndGlyphs">DDX3X</text>
<rect x="271.78" y="464.20" width="8.30" height="15.30" fill="#7b7e81" />
<line x1="275.93" y1="479.50" x2="275.93" y2="483.50" stroke="#222" stroke-width="0.8" />
<text x="0.00" y="0.00" font-size="7.5" fill="#222" text-anchor="end" font-weight="normal" transform="translate(278.43,487) rotate(-90)" textLength="21.92" lengthAdjust="spacingAndGlyphs">SNTB2</text>
<rect x="281.16" y="461.14" width="8.30" height="18.36" fill="#7b7e81" />
<line x1="285.31" y1="479.50" x2="285.31" y2="483.50" stroke="#222" stroke-width="0.8" />
<text x="0.00" y="0.00" font-size="7.5" fill="#222" text-anchor="end" font-weight="normal" transform="translate(287.81,487) rotate(-90)" textLength="21.55" lengthAdjust="spacingAndGlyphs">BCL7A</text>
<rect x="290.55" y="461.14" width="8.30" height="18.36" fill="#e31e24" />
<line x1="294.69" y1="479.50" x2="294.69" y2="483.50" stroke="#222" stroke-width="0.8" />
<text x="0.00" y="0.00" font-size="7.5" fill="#222" text-anchor="end" font-weight="normal" transform="translate(297.19,487) rotate(-90)" textLength="23.05" lengthAdjust="spacingAndGlyphs">CXCR4</text>
<rect x="299.93" y="461.14" width="8.30" height="18.36" fill="#7b7e81" />
<line x1="304.08" y1="479.50" x2="304.08" y2="483.50" stroke="#222" stroke-width="0.8" />
<text x="0.00" y="0.00" font-size="7.5" fill="#222" text-anchor="end" font-weight="normal" transform="translate(306.58,487) rotate(-90)" textLength="17.01" lengthAdjust="spacingAndGlyphs">ETS1</text>
<rect x="309.32" y="461.14" width="8.30" height="18.36" fill="#7b7e81" />
<line x1="313.47" y1="479.50" x2="313.47" y2="483.50" stroke="#222" stroke-width="0.8" />
<text x="0.00" y="0.00" font-size="7.5" fill="#222" text-anchor="end" font-weight="normal" transform="translate(315.97,487) rotate(-90)" textLength="22.30" lengthAdjust="spacingAndGlyphs">GNA13</text>
<rect x="318.70" y="461.14" width="8.30" height="18.36" fill="#7b7e81" />
<line x1="322.85" y1="479.50" x2="322.85" y2="483.50" stroke="#222" stroke-width="0.8" />
<text x="0.00" y="0.00" font-size="7.5" fill="#222" text-anchor="end" font-weight="normal" transform="translate(325.35,487) rotate(-90)" textLength="10.58" lengthAdjust="spacingAndGlyphs">ID3</text>
<rect x="328.09" y="461.14" width="8.30" height="18.36" fill="#7b7e81" />
<line x1="332.24" y1="479.50" x2="332.24" y2="483.50" stroke="#222" stroke-width="0.8" />
<text x="0.00" y="0.00" font-size="7.5" fill="#222" text-anchor="end" font-weight="normal" transform="translate(334.74,487) rotate(-90)" textLength="23.05" lengthAdjust="spacingAndGlyphs">KMT2D</text>
<rect x="337.47" y="461.14" width="8.30" height="18.36" fill="#7b7e81" />
<line x1="341.62" y1="479.50" x2="341.62" y2="483.50" stroke="#222" stroke-width="0.8" />
<text x="0.00" y="0.00" font-size="7.5" fill="#222" text-anchor="end" font-weight="normal" transform="translate(344.12,487) rotate(-90)" textLength="15.86" lengthAdjust="spacingAndGlyphs">MME</text>
<rect x="346.86" y="458.08" width="8.30" height="21.42" fill="#7b7e81" />
<line x1="351.00" y1="479.50" x2="351.00" y2="483.50" stroke="#222" stroke-width="0.8" />
<text x="0.00" y="0.00" font-size="7.5" fill="#222" text-anchor="end" font-weight="normal" transform="translate(353.50,487) rotate(-90)" textLength="17.01" lengthAdjust="spacingAndGlyphs">BCL6</text>
<rect x="356.24" y="458.08" width="8.30" height="21.42" fill="#e31e24" />
<line x1="360.39" y1="479.50" x2="360.39" y2="483.50" stroke="#222" stroke-width="0.8" />
<text x="0.00" y="0.00" font-size="7.5" fill="#222" text-anchor="end" font-weight="normal" transform="translate(362.89,487) rotate(-90)" textLength="20.41" lengthAdjust="spacingAndGlyphs">GNAI2</text>
<rect x="365.62" y="458.08" width="8.30" height="21.42" fill="#e31e24" />
<line x1="369.77" y1="479.50" x2="369.77" y2="483.50" stroke="#222" stroke-width="0.8" />
<text x="0.00" y="0.00" font-size="7.5" fill="#222" text-anchor="end" font-weight="normal" transform="translate(372.27,487) rotate(-90)" textLength="31.36" lengthAdjust="spacingAndGlyphs">HIST1H3J</text>
<rect x="375.01" y="451.96" width="8.30" height="27.54" fill="#7b7e81" />
<line x1="379.16" y1="479.50" x2="379.16" y2="483.50" stroke="#222" stroke-width="0.8" />
<text x="0.00" y="0.00" font-size="7.5" fill="#222" text-anchor="end" font-weight="normal" transform="translate(381.66,487) rotate(-90)" textLength="23.42" lengthAdjust="spacingAndGlyphs">DNMT1</text>
<rect x="384.40" y="451.96" width="8.30" height="27.54" fill="#e31e24" />
<line x1="388.55" y1="479.50" x2="388.55" y2="483.50" stroke="#222" stroke-width="0.8" />
<text x="0.00" y="0.00" font-size="7.5" fill="#222" text-anchor="end" font-weight="normal" transform="translate(391.05,487) rotate(-90)" textLength="17.38" lengthAdjust="spacingAndGlyphs">DTX1</text>
<rect x="393.78" y="451.96" width="8.30" height="27.54" fill="#e31e24" />
<line x1="397.93" y1="479.50" x2="397.93" y2="483.50" stroke="#222" stroke-width="0.8" />
<text x="0.00" y="0.00" font-size="7.5" fill="#222" text-anchor="end" font-weight="normal" transform="translate(400.43,487) rotate(-90)" textLength="21.16" lengthAdjust="spacingAndGlyphs">TCL1A</text>
<rect x="403.17" y="448.90" width="8.30" height="30.60" fill="#e31e24" />
<line x1="407.31" y1="479.50" x2="407.31" y2="483.50" stroke="#222" stroke-width="0.8" />
<text x="0.00" y="0.00" font-size="7.5" fill="#222" text-anchor="end" font-weight="normal" transform="translate(409.81,487) rotate(-90)" textLength="32.87" lengthAdjust="spacingAndGlyphs">HIST1H1C</text>
<rect x="412.55" y="448.90" width="8.30" height="30.60" fill="#7b7e81" />
<line x1="416.70" y1="479.50" x2="416.70" y2="483.50" stroke="#222" stroke-width="0.8" />
<text x="0.00" y="0.00" font-size="7.5" fill="#222" text-anchor="end" font-weight="normal" transform="translate(419.20,487) rotate(-90)" textLength="29.09" lengthAdjust="spacingAndGlyphs">HNRNPU</text>
<rect x="421.94" y="442.78" width="8.30" height="36.72" fill="#e31e24" />
<line x1="426.08" y1="479.50" x2="426.08" y2="483.50" stroke="#222" stroke-width="0.8" />
<text x="0.00" y="0.00" font-size="7.5" fill="#222" text-anchor="end" font-weight="normal" transform="translate(428.58,487) rotate(-90)" textLength="38.16" lengthAdjust="spacingAndGlyphs">HIST1H2AM</text>
<rect x="431.32" y="439.72" width="8.30" height="39.78" fill="#e31e24" />
<line x1="435.47" y1="479.50" x2="435.47" y2="483.50" stroke="#222" stroke-width="0.8" />
<text x="0.00" y="0.00" font-size="7.5" fill="#222" text-anchor="end" font-weight="normal" transform="translate(437.97,487) rotate(-90)" textLength="18.51" lengthAdjust="spacingAndGlyphs">IKZF3</text>
<rect x="440.71" y="436.66" width="8.30" height="42.84" fill="#e31e24" />
<line x1="444.86" y1="479.50" x2="444.86" y2="483.50" stroke="#222" stroke-width="0.8" />
<text x="0.00" y="0.00" font-size="7.5" fill="#222" text-anchor="end" font-weight="normal" transform="translate(447.36,487) rotate(-90)" textLength="18.52" lengthAdjust="spacingAndGlyphs">IGLL5</text>
<rect x="450.09" y="418.30" width="8.30" height="61.20" fill="#e31e24" />
<line x1="454.24" y1="479.50" x2="454.24" y2="483.50" stroke="#222" stroke-width="0.8" />
<text x="0.00" y="0.00" font-size="7.5" fill="#222" text-anchor="end" font-weight="normal" transform="translate(456.74,487) rotate(-90)" textLength="32.87" lengthAdjust="spacingAndGlyphs">HIST1H3H</text>
<rect x="459.48" y="415.24" width="8.30" height="64.26" fill="#e31e24" />
<line x1="463.62" y1="479.50" x2="463.62" y2="483.50" stroke="#222" stroke-width="0.8" />
<text x="0.00" y="0.00" font-size="7.5" fill="#222" text-anchor="end" font-weight="normal" transform="translate(466.12,487) rotate(-90)" textLength="18.14" lengthAdjust="spacingAndGlyphs">MCL1</text>
<rect x="468.86" y="396.88" width="8.30" height="82.62" fill="#e31e24" />
<line x1="473.01" y1="479.50" x2="473.01" y2="483.50" stroke="#222" stroke-width="0.8" />
<text x="0.00" y="0.00" font-size="7.5" fill="#222" text-anchor="end" font-weight="normal" transform="translate(475.51,487) rotate(-90)" textLength="22.67" lengthAdjust="spacingAndGlyphs">BACH2</text>
<rect x="478.25" y="390.76" width="8.30" height="88.74" fill="#e31e24" />
<line x1="482.39" y1="479.50" x2="482.39" y2="483.50" stroke="#222" stroke-width="0.8" />
<text x="0.00" y="0.00" font-size="7.5" fill="#222" text-anchor="end" font-weight="normal" transform="translate(484.89,487) rotate(-90)" textLength="37.03" lengthAdjust="spacingAndGlyphs">HIST1H2BK</text>
<rect x="487.63" y="378.52" width="8.30" height="100.98" fill="#e31e24" />
<line x1="491.78" y1="479.50" x2="491.78" y2="483.50" stroke="#222" stroke-width="0.8" />
<text x="0.00" y="0.00" font-size="7.5" fill="#222" text-anchor="end" font-weight="normal" transform="translate(494.28,487) rotate(-90)" textLength="32.50" lengthAdjust="spacingAndGlyphs">HIST1H1E</text>
<rect x="497.02" y="344.86" width="8.30" height="134.64" fill="#7b7e81" />
<line x1="501.17" y1="479.50" x2="501.17" y2="483.50" stroke="#222" stroke-width="0.8" />
<text x="0.00" y="0.00" font-size="7.5" fill="#222" text-anchor="end" font-weight="normal" transform="translate(503.67,487) rotate(-90)" textLength="15.11" lengthAdjust="spacingAndGlyphs">MYC</text>
<line x1="35.40" y1="338.00" x2="35.40" y2="480.60" stroke="#222" stroke-width="1.2" />
<line x1="35.40" y1="480.00" x2="506.00" y2="480.00" stroke="#222" stroke-width="1.2" />
<line x1="31.50" y1="479.50" x2="35.40" y2="479.50" stroke="#222" stroke-width="0.9" />
<text x="29.00" y="481.80" font-size="6.6" fill="#333" text-anchor="end" font-weight="normal" >0</text>
<line x1="31.50" y1="448.90" x2="35.40" y2="448.90" stroke="#222" stroke-width="0.9" />
<text x="29.00" y="451.20" font-size="6.6" fill="#333" text-anchor="end" font-weight="normal" >10</text>
<line x1="31.50" y1="418.30" x2="35.40" y2="418.30" stroke="#222" stroke-width="0.9" />
<text x="29.00" y="420.60" font-size="6.6" fill="#333" text-anchor="end" font-weight="normal" >20</text>
<line x1="31.50" y1="387.70" x2="35.40" y2="387.70" stroke="#222" stroke-width="0.9" />
<text x="29.00" y="390.00" font-size="6.6" fill="#333" text-anchor="end" font-weight="normal" >30</text>
<line x1="31.50" y1="357.10" x2="35.40" y2="357.10" stroke="#222" stroke-width="0.9" />
<text x="29.00" y="359.40" font-size="6.6" fill="#333" text-anchor="end" font-weight="normal" >40</text>
<text x="0.00" y="0.00" font-size="8.8" fill="#333" text-anchor="middle" font-weight="normal" transform="translate(14.9,408.6) rotate(-90)" textLength="25.7" lengthAdjust="spacingAndGlyphs">Patients</text>
<text x="262.70" y="534.80" font-size="8.0" fill="#333" text-anchor="start" font-weight="normal" textLength="17.0" lengthAdjust="spacingAndGlyphs">Gene</text>
<rect x="0" y="0" width="520" height="1" fill="#5c5c5c"/><rect x="0" y="0" width="1" height="544" fill="#4a4a4a"/><rect x="519" y="0" width="1" height="544" fill="#3c3c3c"/><rect x="0" y="543" width="520" height="1" fill="#3c3c3c"/>
</svg>
</body></html>
